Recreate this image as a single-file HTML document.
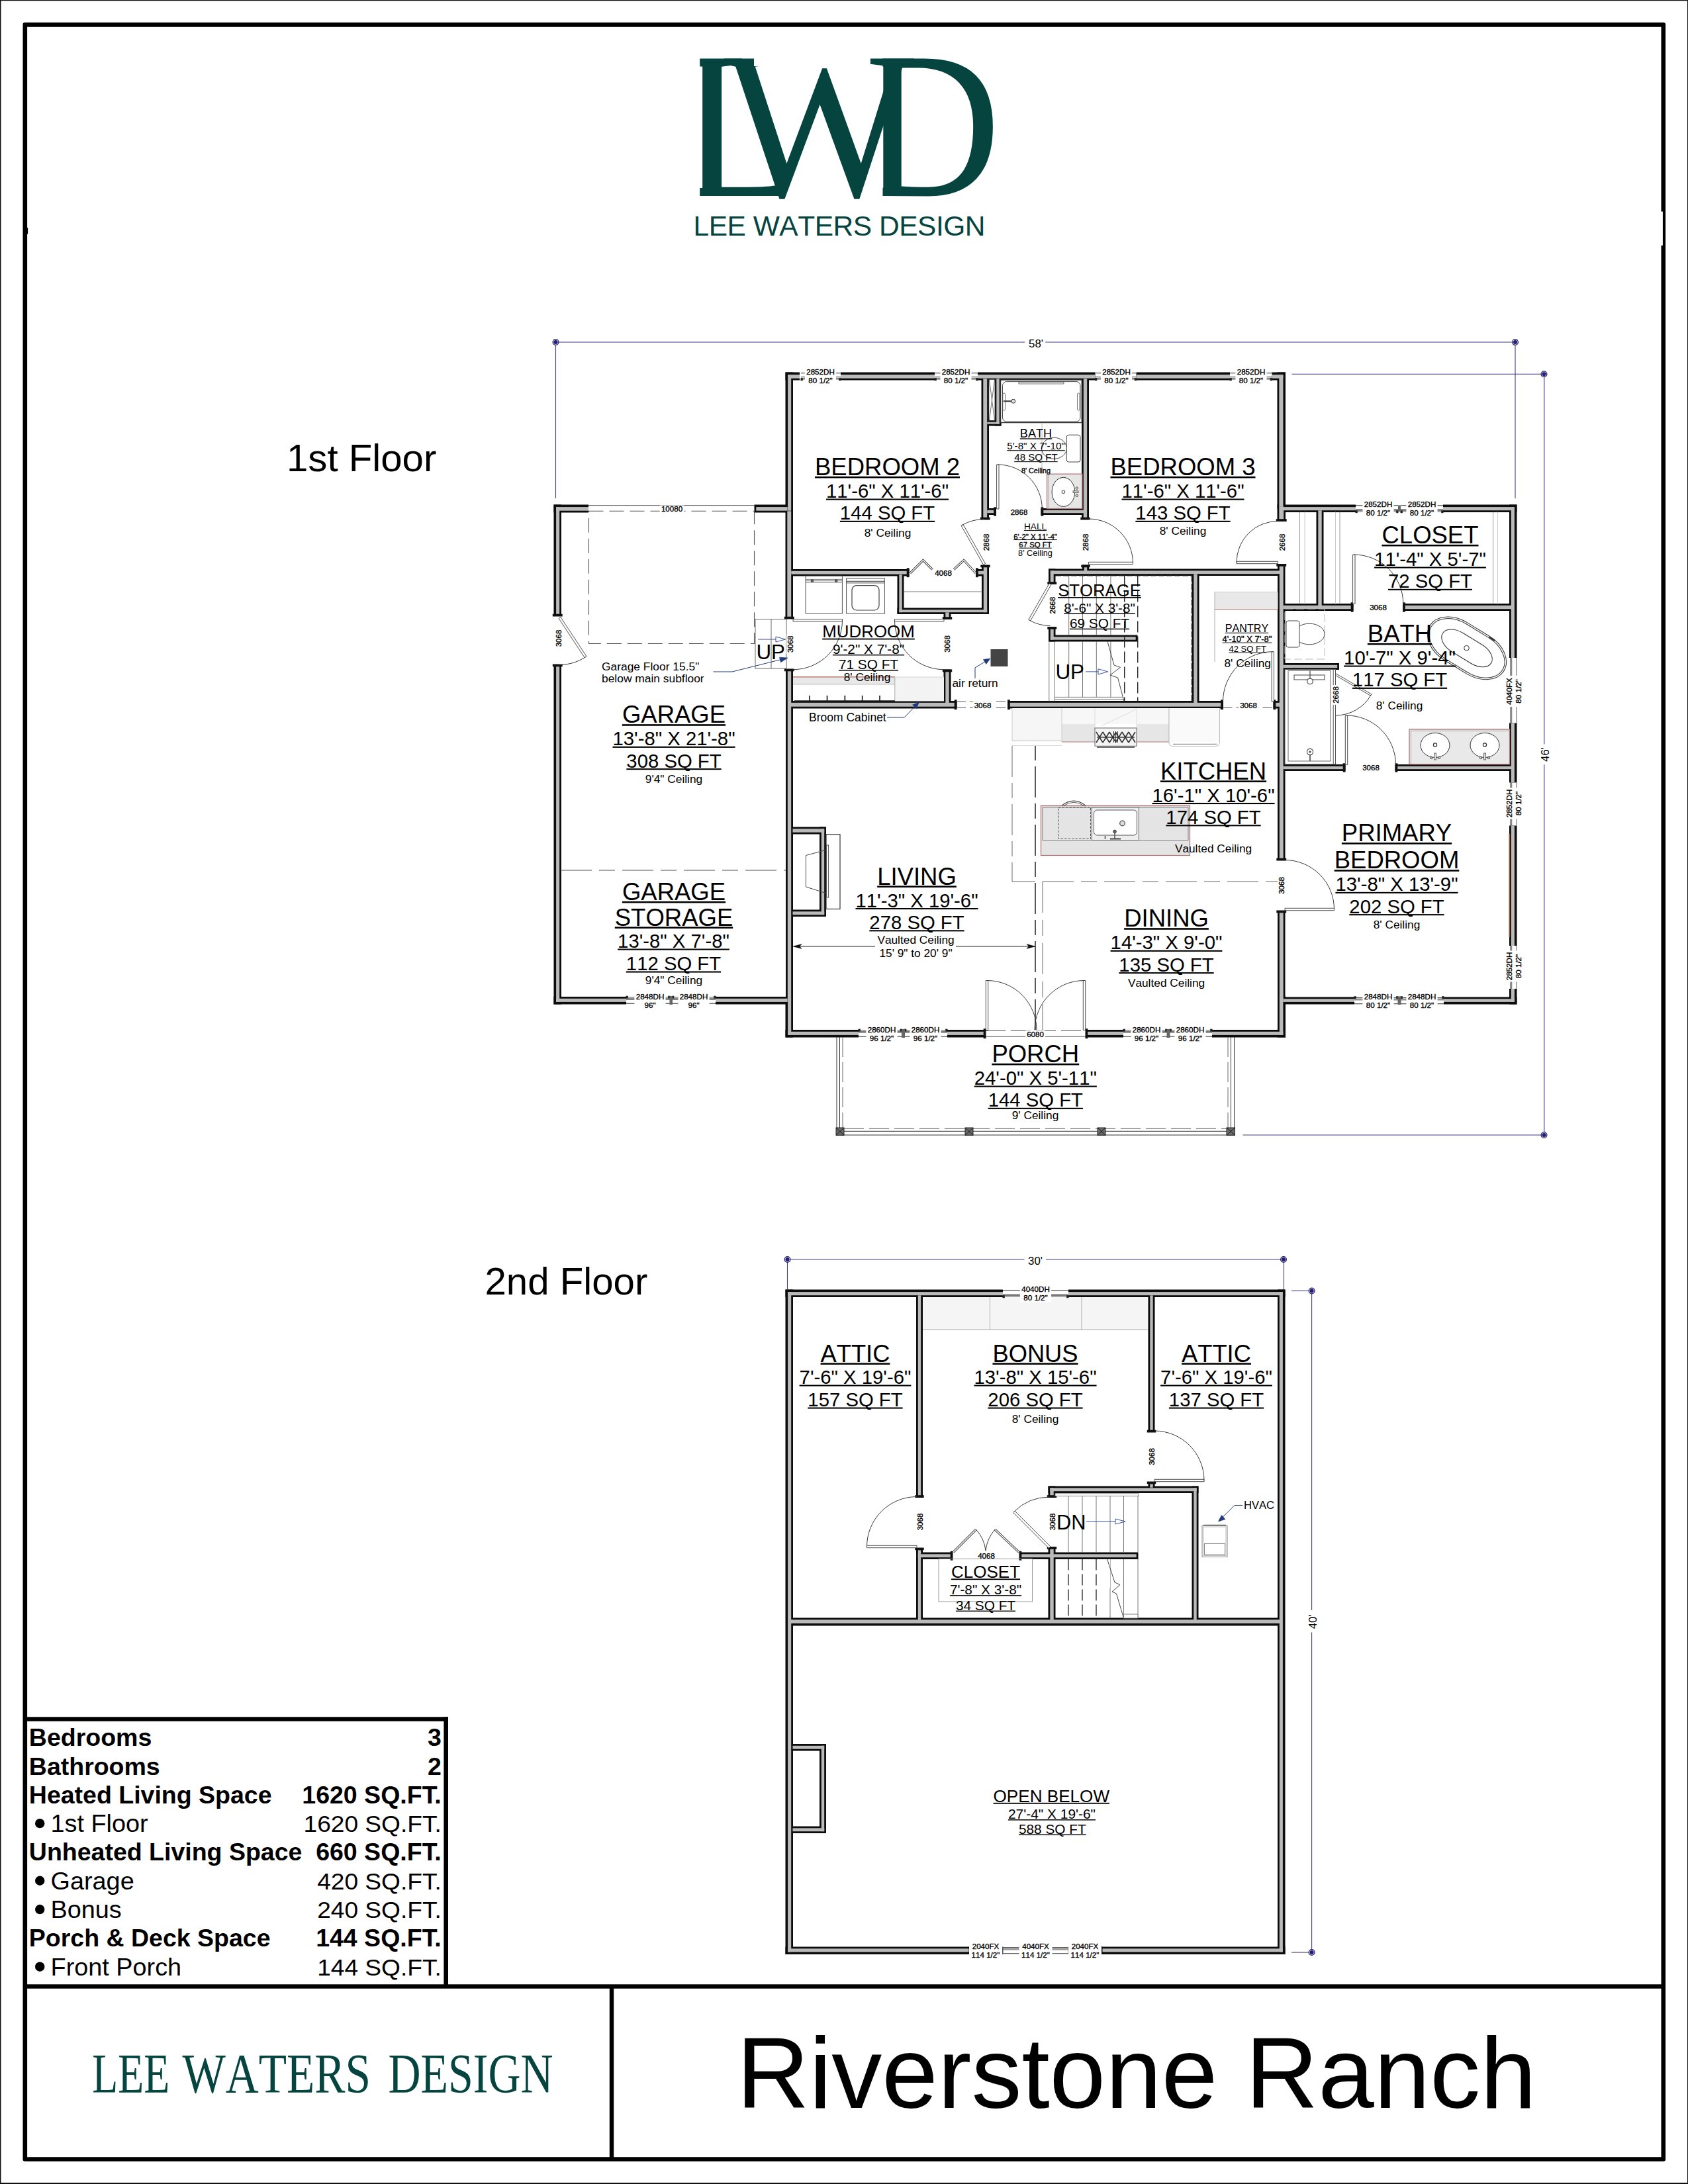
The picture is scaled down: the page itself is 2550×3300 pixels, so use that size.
<!DOCTYPE html>
<html><head><meta charset="utf-8"><title>Riverstone Ranch</title>
<style>
html,body{margin:0;padding:0;background:#fff}
body{width:2550px;height:3300px;overflow:hidden}
svg{display:block}
text{font-family:"Liberation Sans",sans-serif;font-kerning:none}
.sf,.sf text{font-family:"Liberation Serif",serif}
.tb{font-kerning:normal}
.wl{stroke:#000;stroke-width:.35px}
</style></head><body>
<svg width="2550" height="3300" viewBox="0 0 2550 3300">
<rect x="0" y="0" width="2550" height="3300" fill="#fff"/>
<rect x="0" y="0" width="2550" height="1.2" fill="#111"/>
<rect x="0" y="0" width="1.5" height="3300" fill="#111"/>
<rect x="2549" y="0" width="1" height="3300" fill="#111"/>
<rect x="0" y="3298" width="2550" height="2" fill="#111"/>
<rect x="37.8" y="37.35" width="2475" height="3225.2" fill="none" stroke="#000" stroke-width="6.6" stroke-linejoin="round"/>
<rect x="40.9" y="344" width="1.2" height="9.6" fill="#000"/>
<rect x="2508.5" y="319.6" width="3.4" height="51.3" fill="#fff"/>
<rect x="35" y="2998.3" width="2481" height="6.4" fill="#000"/>
<rect x="920.8" y="3001" width="6.4" height="261" fill="#000"/>
<rect x="38" y="2594.3" width="639" height="6.5" fill="#000"/>
<rect x="670.4" y="2594.3" width="6.6" height="406.7" fill="#000"/>
<rect x="836.5" y="762.5" width="11.5" height="168.5" fill="#0c0c0c"/>
<rect x="836.5" y="1004" width="11.5" height="513.5" fill="#0c0c0c"/>
<rect x="836.5" y="762.5" width="52.5" height="12" fill="#0c0c0c"/>
<rect x="1139.5" y="762.5" width="53" height="12" fill="#0c0c0c"/>
<rect x="836.5" y="1506" width="109.5" height="11.5" fill="#0c0c0c"/>
<rect x="1081" y="1506" width="111.5" height="11.5" fill="#0c0c0c"/>
<rect x="1186.5" y="562.5" width="11.5" height="212" fill="#0c0c0c"/>
<rect x="1186.5" y="769.5" width="11.5" height="165.5" fill="#0c0c0c"/>
<rect x="1187" y="1011" width="11" height="501.5" fill="#0c0c0c"/>
<rect x="1186.5" y="1506" width="11.5" height="61.5" fill="#0c0c0c"/>
<rect x="1186.5" y="562.5" width="21.5" height="12" fill="#0c0c0c"/>
<rect x="1270" y="562.5" width="142" height="12" fill="#0c0c0c"/>
<rect x="1477" y="562.5" width="177.5" height="12" fill="#0c0c0c"/>
<rect x="1716.5" y="562.5" width="141.5" height="12" fill="#0c0c0c"/>
<rect x="1921.5" y="562.5" width="20.5" height="12" fill="#0c0c0c"/>
<rect x="1929.5" y="562.5" width="12.5" height="206" fill="#0c0c0c"/>
<rect x="1929.5" y="762.5" width="12.5" height="25" fill="#0c0c0c"/>
<rect x="1930" y="852.5" width="11.5" height="447.5" fill="#0c0c0c"/>
<rect x="1930" y="1376" width="11.5" height="136.5" fill="#0c0c0c"/>
<rect x="1930" y="1505.5" width="12" height="62" fill="#0c0c0c"/>
<rect x="1935.5" y="762.5" width="112.5" height="11.5" fill="#0c0c0c"/>
<rect x="2180" y="762.5" width="111.5" height="11.5" fill="#0c0c0c"/>
<rect x="2280" y="762.5" width="11.5" height="231.5" fill="#0c0c0c"/>
<rect x="2280" y="1092.5" width="11.5" height="90" fill="#0c0c0c"/>
<rect x="2280" y="1247.5" width="11.5" height="181.5" fill="#0c0c0c"/>
<rect x="2280" y="1494" width="11.5" height="23.5" fill="#0c0c0c"/>
<rect x="1935.5" y="1506.5" width="110.5" height="11" fill="#0c0c0c"/>
<rect x="2181" y="1506.5" width="110.5" height="11" fill="#0c0c0c"/>
<rect x="1186.5" y="1556" width="110.5" height="11.5" fill="#0c0c0c"/>
<rect x="1431" y="1556" width="58" height="11.5" fill="#0c0c0c"/>
<rect x="1640" y="1556" width="57" height="11.5" fill="#0c0c0c"/>
<rect x="1831" y="1556" width="111" height="11.5" fill="#0c0c0c"/>
<rect x="1482.5" y="569.5" width="11.5" height="215.5" fill="#0c0c0c"/>
<rect x="1488.5" y="768" width="16.5" height="10" fill="#0c0c0c"/>
<rect x="1502.5" y="569.5" width="10" height="74" fill="#0c0c0c"/>
<rect x="1488.5" y="635" width="24" height="8.5" fill="#0c0c0c"/>
<rect x="1634" y="569.5" width="11" height="215.5" fill="#0c0c0c"/>
<rect x="1572.5" y="768" width="68" height="10" fill="#0c0c0c"/>
<rect x="1635" y="853.5" width="10" height="12" fill="#0c0c0c"/>
<rect x="1192.5" y="860" width="181" height="10.5" fill="#0c0c0c"/>
<rect x="1355.5" y="865.5" width="10" height="62.5" fill="#0c0c0c"/>
<rect x="1355.5" y="918.5" width="138.5" height="9.5" fill="#0c0c0c"/>
<rect x="1483" y="854" width="11" height="74" fill="#0c0c0c"/>
<rect x="1474" y="860" width="15.5" height="10.5" fill="#0c0c0c"/>
<rect x="1425.5" y="922.5" width="11" height="13.5" fill="#0c0c0c"/>
<rect x="1425.5" y="1011.5" width="11" height="54" fill="#0c0c0c"/>
<rect x="1191.5" y="1059" width="254" height="11.5" fill="#0c0c0c"/>
<rect x="1522" y="1059" width="326" height="11.5" fill="#0c0c0c"/>
<rect x="1923.5" y="1059" width="13" height="11.5" fill="#0c0c0c"/>
<rect x="1584" y="859.5" width="10.5" height="23.5" fill="#0c0c0c"/>
<rect x="1584" y="947" width="10.5" height="22.5" fill="#0c0c0c"/>
<rect x="1584" y="859.5" width="352.5" height="10.5" fill="#0c0c0c"/>
<rect x="1584" y="959.5" width="134.5" height="10" fill="#0c0c0c"/>
<rect x="1800.5" y="864.5" width="11" height="201" fill="#0c0c0c"/>
<rect x="1988.5" y="768.5" width="11" height="150" fill="#0c0c0c"/>
<rect x="1935.5" y="912" width="109" height="11" fill="#0c0c0c"/>
<rect x="2119" y="912" width="167.5" height="11" fill="#0c0c0c"/>
<rect x="1935.5" y="1002" width="87.5" height="10" fill="#0c0c0c"/>
<rect x="1935.5" y="1155" width="97" height="10" fill="#0c0c0c"/>
<rect x="2107.5" y="1155" width="179" height="10" fill="#0c0c0c"/>
<rect x="1194.7" y="1249.5" width="53.3" height="11" fill="#0c0c0c"/>
<rect x="1238" y="1249.5" width="10" height="135.5" fill="#0c0c0c"/>
<rect x="1194.7" y="1374.5" width="53.3" height="10.5" fill="#0c0c0c"/>
<rect x="840.1" y="766.1" width="5.1" height="164.9" fill="#bababa"/>
<rect x="840.1" y="1004" width="5.1" height="509.9" fill="#bababa"/>
<rect x="840.1" y="766.1" width="48.9" height="5.6" fill="#bababa"/>
<rect x="1142.3" y="766.1" width="47.4" height="5.6" fill="#bababa"/>
<rect x="840.1" y="1508.8" width="105.9" height="5.1" fill="#bababa"/>
<rect x="1081" y="1508.8" width="108.7" height="5.1" fill="#bababa"/>
<rect x="1190.1" y="566.1" width="5.1" height="205.6" fill="#bababa"/>
<rect x="1189.3" y="772.3" width="5.9" height="162.7" fill="#bababa"/>
<rect x="1189.8" y="1011" width="5.4" height="498.7" fill="#bababa"/>
<rect x="1190.1" y="1508.8" width="5.1" height="55.1" fill="#bababa"/>
<rect x="1190.1" y="566.1" width="17.9" height="5.6" fill="#bababa"/>
<rect x="1270" y="566.1" width="142" height="5.6" fill="#bababa"/>
<rect x="1477" y="566.1" width="177.5" height="5.6" fill="#bababa"/>
<rect x="1716.5" y="566.1" width="141.5" height="5.6" fill="#bababa"/>
<rect x="1921.5" y="566.1" width="16.9" height="5.6" fill="#bababa"/>
<rect x="1932.3" y="566.1" width="6.1" height="199.6" fill="#bababa"/>
<rect x="1932.3" y="765.3" width="6.9" height="22.2" fill="#bababa"/>
<rect x="1932.8" y="852.5" width="5.9" height="447.5" fill="#bababa"/>
<rect x="1932.8" y="1376" width="5.9" height="133.7" fill="#bababa"/>
<rect x="1932.8" y="1508.3" width="5.6" height="55.6" fill="#bababa"/>
<rect x="1938.3" y="766.1" width="109.7" height="5.1" fill="#bababa"/>
<rect x="2180" y="766.1" width="107.9" height="5.1" fill="#bababa"/>
<rect x="2282.8" y="766.1" width="5.1" height="227.9" fill="#bababa"/>
<rect x="2282.8" y="1092.5" width="5.1" height="90" fill="#bababa"/>
<rect x="2282.8" y="1247.5" width="5.1" height="181.5" fill="#bababa"/>
<rect x="2282.8" y="1494" width="5.1" height="19.9" fill="#bababa"/>
<rect x="1938.3" y="1509.3" width="107.7" height="4.6" fill="#bababa"/>
<rect x="2181" y="1509.3" width="106.9" height="4.6" fill="#bababa"/>
<rect x="1190.1" y="1558.8" width="106.9" height="5.1" fill="#bababa"/>
<rect x="1431" y="1558.8" width="58" height="5.1" fill="#bababa"/>
<rect x="1640" y="1558.8" width="57" height="5.1" fill="#bababa"/>
<rect x="1831" y="1558.8" width="107.4" height="5.1" fill="#bababa"/>
<rect x="1485.3" y="572.3" width="5.9" height="212.7" fill="#bababa"/>
<rect x="1491.3" y="770.8" width="10.9" height="4.4" fill="#bababa"/>
<rect x="1505.3" y="572.3" width="4.4" height="68.4" fill="#bababa"/>
<rect x="1491.3" y="637.8" width="18.4" height="2.9" fill="#bababa"/>
<rect x="1636.8" y="572.3" width="5.4" height="212.7" fill="#bababa"/>
<rect x="1575.3" y="770.8" width="62.4" height="4.4" fill="#bababa"/>
<rect x="1637.8" y="856.3" width="4.4" height="6.4" fill="#bababa"/>
<rect x="1195.3" y="862.8" width="175.4" height="4.9" fill="#bababa"/>
<rect x="1358.3" y="868.3" width="4.4" height="56.9" fill="#bababa"/>
<rect x="1358.3" y="921.3" width="132.9" height="3.9" fill="#bababa"/>
<rect x="1485.8" y="854" width="5.4" height="71.2" fill="#bababa"/>
<rect x="1476.8" y="862.8" width="9.9" height="4.9" fill="#bababa"/>
<rect x="1428.3" y="925.3" width="5.4" height="7.9" fill="#bababa"/>
<rect x="1428.3" y="1014.3" width="5.4" height="48.4" fill="#bababa"/>
<rect x="1194.3" y="1061.8" width="248.4" height="5.9" fill="#bababa"/>
<rect x="1524.8" y="1061.8" width="320.4" height="5.9" fill="#bababa"/>
<rect x="1926.3" y="1061.8" width="7.4" height="5.9" fill="#bababa"/>
<rect x="1586.8" y="862.3" width="4.9" height="17.9" fill="#bababa"/>
<rect x="1586.8" y="949.8" width="4.9" height="16.9" fill="#bababa"/>
<rect x="1586.8" y="862.3" width="346.9" height="4.9" fill="#bababa"/>
<rect x="1586.8" y="962.3" width="128.9" height="4.4" fill="#bababa"/>
<rect x="1803.3" y="867.3" width="5.4" height="195.4" fill="#bababa"/>
<rect x="1991.3" y="771.3" width="5.4" height="144.4" fill="#bababa"/>
<rect x="1938.3" y="914.8" width="103.4" height="5.4" fill="#bababa"/>
<rect x="2121.8" y="914.8" width="161.9" height="5.4" fill="#bababa"/>
<rect x="1938.3" y="1004.8" width="81.9" height="4.4" fill="#bababa"/>
<rect x="1938.3" y="1157.8" width="91.4" height="4.4" fill="#bababa"/>
<rect x="2110.3" y="1157.8" width="173.4" height="4.4" fill="#bababa"/>
<rect x="1197.5" y="1252.3" width="47.7" height="5.4" fill="#bababa"/>
<rect x="1240.8" y="1252.3" width="4.4" height="129.9" fill="#bababa"/>
<rect x="1197.5" y="1377.3" width="47.7" height="4.9" fill="#bababa"/>
<line x1="839.5" y1="517" x2="1548.3" y2="517" stroke="#403b7c" stroke-width="1.2"/>
<line x1="1579.2" y1="517" x2="2289" y2="517" stroke="#403b7c" stroke-width="1.2"/>
<line x1="839.5" y1="517" x2="839.5" y2="753" stroke="#403b7c" stroke-width="1.1"/>
<line x1="2289" y1="517" x2="2289" y2="753" stroke="#403b7c" stroke-width="1.1"/>
<circle cx="839.5" cy="517" r="4.4" fill="#d2d2ff" stroke="#2b285c" stroke-width="1.3"/>
<circle cx="839.5" cy="517" r="3" fill="#211d78" stroke="none" stroke-width="0"/>
<circle cx="2289" cy="517" r="4.4" fill="#d2d2ff" stroke="#2b285c" stroke-width="1.3"/>
<circle cx="2289" cy="517" r="3" fill="#211d78" stroke="none" stroke-width="0"/>
<text x="1565" y="525.1" font-size="16.8" text-anchor="middle">58'</text>
<line x1="1951.5" y1="565.3" x2="2332.5" y2="565.3" stroke="#403b7c" stroke-width="1.1"/>
<circle cx="2332.5" cy="565.3" r="4.4" fill="#d2d2ff" stroke="#2b285c" stroke-width="1.3"/>
<circle cx="2332.5" cy="565.3" r="3" fill="#211d78" stroke="none" stroke-width="0"/>
<line x1="2332.8" y1="565.3" x2="2332.8" y2="1124.4" stroke="#403b7c" stroke-width="1.1"/>
<line x1="2332.8" y1="1155.2" x2="2332.8" y2="1715" stroke="#403b7c" stroke-width="1.1"/>
<line x1="1877.5" y1="1715" x2="2332.5" y2="1715" stroke="#403b7c" stroke-width="1.1"/>
<circle cx="2332.5" cy="1715" r="4.4" fill="#d2d2ff" stroke="#2b285c" stroke-width="1.3"/>
<circle cx="2332.5" cy="1715" r="3" fill="#211d78" stroke="none" stroke-width="0"/>
<text x="2339.8" y="1140" font-size="16.8" text-anchor="middle" transform="rotate(-90 2339.8 1140)">46'</text>
<line x1="889" y1="763.6" x2="1140" y2="763.6" stroke="#555" stroke-width="1"/>
<rect x="889.5" y="772.2" width="250" height="200.3" fill="none" stroke="#555" stroke-width="1.1" stroke-dasharray="22 9"/>
<line x1="847" y1="1315" x2="1187" y2="1315" stroke="#555" stroke-width="1.1" stroke-dasharray="47 11 24 11"/>
<rect x="1141" y="935.5" width="47" height="74.5" fill="#fff" stroke="#666" stroke-width="1"/>
<line x1="1165" y1="935.5" x2="1165" y2="1010" stroke="#666" stroke-width="1"/>
<line x1="1210" y1="563.8" x2="1270" y2="563.8" stroke="#333" stroke-width="1.1"/>
<line x1="1210" y1="569.6" x2="1270" y2="569.6" stroke="#444" stroke-width="0.9"/>
<line x1="1210" y1="571.3" x2="1270" y2="571.3" stroke="#444" stroke-width="0.9"/>
<line x1="1210" y1="573" x2="1270" y2="573" stroke="#444" stroke-width="0.9"/>
<rect x="1209.5" y="571.2" width="3.3" height="4" fill="#222"/>
<rect x="1267.2" y="571.2" width="3.3" height="4" fill="#222"/>
<line x1="1412" y1="563.8" x2="1477" y2="563.8" stroke="#333" stroke-width="1.1"/>
<line x1="1412" y1="569.6" x2="1477" y2="569.6" stroke="#444" stroke-width="0.9"/>
<line x1="1412" y1="571.3" x2="1477" y2="571.3" stroke="#444" stroke-width="0.9"/>
<line x1="1412" y1="573" x2="1477" y2="573" stroke="#444" stroke-width="0.9"/>
<rect x="1411.5" y="571.2" width="3.3" height="4" fill="#222"/>
<rect x="1474.2" y="571.2" width="3.3" height="4" fill="#222"/>
<line x1="1654.5" y1="563.8" x2="1716.5" y2="563.8" stroke="#333" stroke-width="1.1"/>
<line x1="1654.5" y1="569.6" x2="1716.5" y2="569.6" stroke="#444" stroke-width="0.9"/>
<line x1="1654.5" y1="571.3" x2="1716.5" y2="571.3" stroke="#444" stroke-width="0.9"/>
<line x1="1654.5" y1="573" x2="1716.5" y2="573" stroke="#444" stroke-width="0.9"/>
<rect x="1654" y="571.2" width="3.3" height="4" fill="#222"/>
<rect x="1713.7" y="571.2" width="3.3" height="4" fill="#222"/>
<line x1="1858" y1="563.8" x2="1921.5" y2="563.8" stroke="#333" stroke-width="1.1"/>
<line x1="1858" y1="569.6" x2="1921.5" y2="569.6" stroke="#444" stroke-width="0.9"/>
<line x1="1858" y1="571.3" x2="1921.5" y2="571.3" stroke="#444" stroke-width="0.9"/>
<line x1="1858" y1="573" x2="1921.5" y2="573" stroke="#444" stroke-width="0.9"/>
<rect x="1857.5" y="571.2" width="3.3" height="4" fill="#222"/>
<rect x="1918.7" y="571.2" width="3.3" height="4" fill="#222"/>
<line x1="2048" y1="763.8" x2="2112" y2="763.8" stroke="#333" stroke-width="1.1"/>
<line x1="2048" y1="769.6" x2="2112" y2="769.6" stroke="#444" stroke-width="0.9"/>
<line x1="2048" y1="771.3" x2="2112" y2="771.3" stroke="#444" stroke-width="0.9"/>
<line x1="2048" y1="773" x2="2112" y2="773" stroke="#444" stroke-width="0.9"/>
<rect x="2047.5" y="771.2" width="3.3" height="4" fill="#222"/>
<rect x="2109.2" y="771.2" width="3.3" height="4" fill="#222"/>
<line x1="2116" y1="763.8" x2="2180" y2="763.8" stroke="#333" stroke-width="1.1"/>
<line x1="2116" y1="769.6" x2="2180" y2="769.6" stroke="#444" stroke-width="0.9"/>
<line x1="2116" y1="771.3" x2="2180" y2="771.3" stroke="#444" stroke-width="0.9"/>
<line x1="2116" y1="773" x2="2180" y2="773" stroke="#444" stroke-width="0.9"/>
<rect x="2115.5" y="771.2" width="3.3" height="4" fill="#222"/>
<rect x="2177.2" y="771.2" width="3.3" height="4" fill="#222"/>
<rect x="2112" y="763.5" width="4" height="9.5" fill="#666"/>
<line x1="946" y1="1516.2" x2="1012" y2="1516.2" stroke="#333" stroke-width="1.1"/>
<line x1="946" y1="1507" x2="1012" y2="1507" stroke="#444" stroke-width="0.9"/>
<line x1="946" y1="1508.7" x2="1012" y2="1508.7" stroke="#444" stroke-width="0.9"/>
<line x1="946" y1="1510.4" x2="1012" y2="1510.4" stroke="#444" stroke-width="0.9"/>
<rect x="945.5" y="1504.7" width="3.3" height="4" fill="#222"/>
<rect x="1009.2" y="1504.7" width="3.3" height="4" fill="#222"/>
<line x1="1015.5" y1="1516.2" x2="1081" y2="1516.2" stroke="#333" stroke-width="1.1"/>
<line x1="1015.5" y1="1507" x2="1081" y2="1507" stroke="#444" stroke-width="0.9"/>
<line x1="1015.5" y1="1508.7" x2="1081" y2="1508.7" stroke="#444" stroke-width="0.9"/>
<line x1="1015.5" y1="1510.4" x2="1081" y2="1510.4" stroke="#444" stroke-width="0.9"/>
<rect x="1015" y="1504.7" width="3.3" height="4" fill="#222"/>
<rect x="1078.2" y="1504.7" width="3.3" height="4" fill="#222"/>
<rect x="1011.5" y="1505" width="4.5" height="13" fill="#666"/>
<line x1="2046" y1="1516.7" x2="2112" y2="1516.7" stroke="#333" stroke-width="1.1"/>
<line x1="2046" y1="1507.5" x2="2112" y2="1507.5" stroke="#444" stroke-width="0.9"/>
<line x1="2046" y1="1509.2" x2="2112" y2="1509.2" stroke="#444" stroke-width="0.9"/>
<line x1="2046" y1="1510.9" x2="2112" y2="1510.9" stroke="#444" stroke-width="0.9"/>
<rect x="2045.5" y="1505.2" width="3.3" height="4" fill="#222"/>
<rect x="2109.2" y="1505.2" width="3.3" height="4" fill="#222"/>
<line x1="2116" y1="1516.7" x2="2181" y2="1516.7" stroke="#333" stroke-width="1.1"/>
<line x1="2116" y1="1507.5" x2="2181" y2="1507.5" stroke="#444" stroke-width="0.9"/>
<line x1="2116" y1="1509.2" x2="2181" y2="1509.2" stroke="#444" stroke-width="0.9"/>
<line x1="2116" y1="1510.9" x2="2181" y2="1510.9" stroke="#444" stroke-width="0.9"/>
<rect x="2115.5" y="1505.2" width="3.3" height="4" fill="#222"/>
<rect x="2178.2" y="1505.2" width="3.3" height="4" fill="#222"/>
<rect x="2111.5" y="1505.5" width="5" height="12.5" fill="#666"/>
<line x1="1297" y1="1566.2" x2="1362.5" y2="1566.2" stroke="#333" stroke-width="1.1"/>
<line x1="1297" y1="1557" x2="1362.5" y2="1557" stroke="#444" stroke-width="0.9"/>
<line x1="1297" y1="1558.7" x2="1362.5" y2="1558.7" stroke="#444" stroke-width="0.9"/>
<line x1="1297" y1="1560.4" x2="1362.5" y2="1560.4" stroke="#444" stroke-width="0.9"/>
<rect x="1296.5" y="1554.7" width="3.3" height="4" fill="#222"/>
<rect x="1359.7" y="1554.7" width="3.3" height="4" fill="#222"/>
<line x1="1366.5" y1="1566.2" x2="1431" y2="1566.2" stroke="#333" stroke-width="1.1"/>
<line x1="1366.5" y1="1557" x2="1431" y2="1557" stroke="#444" stroke-width="0.9"/>
<line x1="1366.5" y1="1558.7" x2="1431" y2="1558.7" stroke="#444" stroke-width="0.9"/>
<line x1="1366.5" y1="1560.4" x2="1431" y2="1560.4" stroke="#444" stroke-width="0.9"/>
<rect x="1366" y="1554.7" width="3.3" height="4" fill="#222"/>
<rect x="1428.2" y="1554.7" width="3.3" height="4" fill="#222"/>
<rect x="1362" y="1555" width="5" height="13" fill="#666"/>
<line x1="1697" y1="1566.2" x2="1763" y2="1566.2" stroke="#333" stroke-width="1.1"/>
<line x1="1697" y1="1557" x2="1763" y2="1557" stroke="#444" stroke-width="0.9"/>
<line x1="1697" y1="1558.7" x2="1763" y2="1558.7" stroke="#444" stroke-width="0.9"/>
<line x1="1697" y1="1560.4" x2="1763" y2="1560.4" stroke="#444" stroke-width="0.9"/>
<rect x="1696.5" y="1554.7" width="3.3" height="4" fill="#222"/>
<rect x="1760.2" y="1554.7" width="3.3" height="4" fill="#222"/>
<line x1="1767" y1="1566.2" x2="1831" y2="1566.2" stroke="#333" stroke-width="1.1"/>
<line x1="1767" y1="1557" x2="1831" y2="1557" stroke="#444" stroke-width="0.9"/>
<line x1="1767" y1="1558.7" x2="1831" y2="1558.7" stroke="#444" stroke-width="0.9"/>
<line x1="1767" y1="1560.4" x2="1831" y2="1560.4" stroke="#444" stroke-width="0.9"/>
<rect x="1766.5" y="1554.7" width="3.3" height="4" fill="#222"/>
<rect x="1828.2" y="1554.7" width="3.3" height="4" fill="#222"/>
<rect x="1762.5" y="1555" width="5" height="13" fill="#666"/>
<line x1="2281.5" y1="994" x2="2281.5" y2="1092.5" stroke="#444" stroke-width="0.9"/>
<line x1="2283.7" y1="994" x2="2283.7" y2="1092.5" stroke="#444" stroke-width="0.9"/>
<line x1="2290.8" y1="994" x2="2290.8" y2="1092.5" stroke="#666" stroke-width="1"/>
<line x1="2281.5" y1="1182.5" x2="2281.5" y2="1247.5" stroke="#444" stroke-width="0.9"/>
<line x1="2283.7" y1="1182.5" x2="2283.7" y2="1247.5" stroke="#444" stroke-width="0.9"/>
<line x1="2290.8" y1="1182.5" x2="2290.8" y2="1247.5" stroke="#666" stroke-width="1"/>
<line x1="2281.5" y1="1429" x2="2281.5" y2="1494" stroke="#444" stroke-width="0.9"/>
<line x1="2283.7" y1="1429" x2="2283.7" y2="1494" stroke="#444" stroke-width="0.9"/>
<line x1="2290.8" y1="1429" x2="2290.8" y2="1494" stroke="#666" stroke-width="1"/>
<line x1="2280.3" y1="1260" x2="2280.3" y2="1416" stroke="#a0522d" stroke-width="1.6"/>
<line x1="1489" y1="1557.3" x2="1640" y2="1557.3" stroke="#555" stroke-width="1" stroke-dasharray="30 8"/>
<line x1="1489" y1="1566.2" x2="1640" y2="1566.2" stroke="#555" stroke-width="1"/>
<rect x="1501.2" y="766.3" width="3.8" height="13.4" fill="#111"/>
<rect x="1572.5" y="766.3" width="3.8" height="13.4" fill="#111"/>
<rect x="1369.7" y="858.3" width="3.8" height="13.9" fill="#111"/>
<rect x="1474" y="858.3" width="3.8" height="13.9" fill="#111"/>
<rect x="1441.7" y="1057.3" width="3.8" height="14.9" fill="#111"/>
<rect x="1522" y="1057.3" width="3.8" height="14.9" fill="#111"/>
<rect x="1844.2" y="1057.3" width="3.8" height="14.9" fill="#111"/>
<rect x="1923.5" y="1057.3" width="3.8" height="14.9" fill="#111"/>
<rect x="2040.7" y="910.3" width="3.8" height="14.4" fill="#111"/>
<rect x="2119" y="910.3" width="3.8" height="14.4" fill="#111"/>
<rect x="2028.7" y="1153.3" width="3.8" height="13.4" fill="#111"/>
<rect x="2107.5" y="1153.3" width="3.8" height="13.4" fill="#111"/>
<rect x="1485.7" y="1554.3" width="3.8" height="14.9" fill="#111"/>
<rect x="1639.5" y="1554.3" width="3.8" height="14.9" fill="#111"/>
<rect x="834.8" y="927.7" width="14.9" height="3.8" fill="#111"/>
<rect x="834.8" y="1003.5" width="14.9" height="3.8" fill="#111"/>
<rect x="1184.8" y="931.7" width="14.9" height="3.8" fill="#111"/>
<rect x="1184.8" y="1010.5" width="14.9" height="3.8" fill="#111"/>
<rect x="1423.8" y="932.2" width="14.4" height="3.8" fill="#111"/>
<rect x="1423.8" y="1011.5" width="14.4" height="3.8" fill="#111"/>
<rect x="1480.8" y="781.7" width="14.9" height="3.8" fill="#111"/>
<rect x="1481.3" y="853.5" width="14.4" height="3.8" fill="#111"/>
<rect x="1632.3" y="781.7" width="14.4" height="3.8" fill="#111"/>
<rect x="1633.3" y="853.5" width="13.4" height="3.8" fill="#111"/>
<rect x="1582.3" y="879.2" width="13.9" height="3.8" fill="#111"/>
<rect x="1582.3" y="947" width="13.9" height="3.8" fill="#111"/>
<rect x="1927.8" y="784.2" width="15.9" height="3.8" fill="#111"/>
<rect x="1928.3" y="852" width="14.9" height="3.8" fill="#111"/>
<rect x="1928.3" y="1296.7" width="14.9" height="3.8" fill="#111"/>
<rect x="1928.3" y="1375.5" width="14.9" height="3.8" fill="#111"/>
<polygon points="844.08,934.44 883.16,993.71 886,991.84 846.92,932.56" fill="#fff" stroke="#3a3a3a" stroke-width="0.9"/>
<path d="M884.58 992.77A71 71 0 0 1 845.5 1004.5" fill="none" stroke="#3a3a3a" stroke-width="1"/>
<polygon points="1198,938.9 1272.5,938.9 1272.5,935.5 1198,935.5" fill="#fff" stroke="#3a3a3a" stroke-width="0.9"/>
<path d="M1272.5 937.2A74.5 74.5 0 0 1 1198 1011.7" fill="none" stroke="#3a3a3a" stroke-width="1"/>
<polygon points="1426,935.5 1351.5,935.5 1351.5,938.9 1426,938.9" fill="#fff" stroke="#3a3a3a" stroke-width="0.9"/>
<path d="M1351.5 937.2A74.5 74.5 0 0 0 1426 1011.7" fill="none" stroke="#3a3a3a" stroke-width="1"/>
<polygon points="1488.48,851.66 1454.99,792.48 1452.04,794.15 1485.52,853.34" fill="#fff" stroke="#3a3a3a" stroke-width="0.9"/>
<path d="M1453.52 793.32A68 68 0 0 1 1487 784.5" fill="none" stroke="#3a3a3a" stroke-width="1"/>
<polygon points="1509,769 1509,702 1505.6,702 1505.6,769" fill="#fff" stroke="#3a3a3a" stroke-width="0.9"/>
<path d="M1507.3 702A67 67 0 0 1 1574.3 769" fill="none" stroke="#3a3a3a" stroke-width="1"/>
<polygon points="1644.5,852.7 1711.5,852.7 1711.5,849.3 1644.5,849.3" fill="#fff" stroke="#3a3a3a" stroke-width="0.9"/>
<path d="M1711.5 851A67 67 0 0 0 1644.5 784" fill="none" stroke="#3a3a3a" stroke-width="1"/>
<polygon points="1585.02,881.66 1553.72,936.32 1556.67,938.01 1587.98,883.34" fill="#fff" stroke="#3a3a3a" stroke-width="0.9"/>
<path d="M1555.19 937.17A63 63 0 0 0 1586.5 945.5" fill="none" stroke="#3a3a3a" stroke-width="1"/>
<polygon points="1930.5,848.3 1868,848.3 1868,851.7 1930.5,851.7" fill="#fff" stroke="#3a3a3a" stroke-width="0.9"/>
<path d="M1868 850A62.5 62.5 0 0 1 1930.5 787.5" fill="none" stroke="#3a3a3a" stroke-width="1"/>
<polygon points="2047,912.5 2047,838 2043.6,838 2043.6,912.5" fill="#fff" stroke="#3a3a3a" stroke-width="0.9"/>
<path d="M2045.3 838A74.5 74.5 0 0 1 2119.8 912.5" fill="none" stroke="#3a3a3a" stroke-width="1"/>
<polygon points="1924.5,1060 1924.5,984.7 1921.1,984.7 1921.1,1060" fill="#fff" stroke="#3a3a3a" stroke-width="0.9"/>
<path d="M1922.8 984.7A75.3 75.3 0 0 0 1847.5 1060" fill="none" stroke="#3a3a3a" stroke-width="1"/>
<polygon points="2016.85,1020.13 2070.54,1051.13 2071.84,1048.87 2018.15,1017.87" fill="#fff" stroke="#3a3a3a" stroke-width="0.9"/>
<path d="M2071.19 1050A62 62 0 0 1 2017.5 1081" fill="none" stroke="#3a3a3a" stroke-width="1"/>
<polygon points="2035.7,1155.5 2035.7,1081 2032.3,1081 2032.3,1155.5" fill="#fff" stroke="#3a3a3a" stroke-width="0.9"/>
<path d="M2034 1081A74.5 74.5 0 0 1 2108.5 1155.5" fill="none" stroke="#3a3a3a" stroke-width="1"/>
<polygon points="1941,1375.7 2015.5,1375.7 2015.5,1372.3 1941,1372.3" fill="#fff" stroke="#3a3a3a" stroke-width="0.9"/>
<path d="M2015.5 1374A74.5 74.5 0 0 0 1941 1299.5" fill="none" stroke="#3a3a3a" stroke-width="1"/>
<polygon points="1492.7,1556.5 1492.7,1481.5 1489.3,1481.5 1489.3,1556.5" fill="#fff" stroke="#3a3a3a" stroke-width="0.9"/>
<path d="M1491 1481.5A75 75 0 0 1 1566 1556.5" fill="none" stroke="#3a3a3a" stroke-width="1"/>
<polygon points="1639.7,1556.5 1639.7,1481.5 1636.3,1481.5 1636.3,1556.5" fill="#fff" stroke="#3a3a3a" stroke-width="0.9"/>
<path d="M1638 1481.5A75 75 0 0 0 1563 1556.5" fill="none" stroke="#3a3a3a" stroke-width="1"/>
<polyline points="1375,866 1394.5,846.5 1408.5,860.5" fill="none" stroke="#3a3a3a" stroke-width="3.2" stroke-linejoin="miter"/>
<polyline points="1375,866 1394.5,846.5 1408.5,860.5" fill="none" stroke="#fff" stroke-width="1.4" stroke-linejoin="miter"/>
<polyline points="1474,866 1456,846.5 1441,860.5" fill="none" stroke="#3a3a3a" stroke-width="3.2" stroke-linejoin="miter"/>
<polyline points="1474,866 1456,846.5 1441,860.5" fill="none" stroke="#fff" stroke-width="1.4" stroke-linejoin="miter"/>
<line x1="1365" y1="894" x2="1483.5" y2="894" stroke="#777" stroke-width="1"/>
<line x1="1445" y1="1060.3" x2="1522.5" y2="1060.3" stroke="#555" stroke-width="1" stroke-dasharray="14 6"/>
<line x1="1445" y1="1069.2" x2="1522.5" y2="1069.2" stroke="#555" stroke-width="1" stroke-dasharray="14 6"/>
<line x1="1847.5" y1="1069.2" x2="1924" y2="1069.2" stroke="#555" stroke-width="1" stroke-dasharray="14 6"/>
<rect x="1493.3" y="572.8" width="10.2" height="63.2" fill="#fff" stroke="#1e1e1e" stroke-width="1.8"/>
<line x1="1494.5" y1="574" x2="1502.5" y2="635" stroke="#444" stroke-width="0.8"/>
<line x1="1502.5" y1="574" x2="1494.5" y2="635" stroke="#444" stroke-width="0.8"/>
<rect x="1511.5" y="574" width="122.8" height="64.5" fill="#fff" stroke="#333" stroke-width="1.5"/>
<rect x="1514.5" y="576.6" width="117.5" height="60.4" fill="none" stroke="#444" stroke-width="1" rx="6"/>
<rect x="1539" y="577.3" width="68" height="2.7" fill="none" stroke="#555" stroke-width="0.8"/>
<rect x="1514.8" y="594" width="3.7" height="26" fill="none" stroke="#555" stroke-width="0.8" rx="1.5"/>
<rect x="1627.5" y="594" width="3.5" height="26" fill="none" stroke="#555" stroke-width="0.8" rx="1.5"/>
<line x1="1516" y1="606.2" x2="1528" y2="606.2" stroke="#444" stroke-width="2.2"/>
<circle cx="1530.8" cy="606.2" r="3" fill="#ddd" stroke="#333" stroke-width="1"/>
<line x1="1574" y1="639" x2="1574" y2="716" stroke="#bbb" stroke-width="1"/>
<ellipse cx="1592.4" cy="677.3" rx="19" ry="16" fill="#fff" stroke="#444" stroke-width="1"/>
<rect x="1611.3" y="657.2" width="20.7" height="40.8" fill="#fff" stroke="#444" stroke-width="1" rx="3"/>
<rect x="1581.6" y="716.2" width="53.2" height="52.3" fill="#e6e6e6" stroke="#b07878" stroke-width="1.3"/>
<line x1="1584" y1="718" x2="1584" y2="768" stroke="#999" stroke-width="0.8"/>
<ellipse cx="1606.4" cy="743.4" rx="17.3" ry="22" fill="#fff" stroke="#333" stroke-width="1"/>
<circle cx="1606.4" cy="743.2" r="2.4" fill="#fff" stroke="#333" stroke-width="1"/>
<rect x="1621" y="741.8" width="8" height="2.8" fill="#ddd" stroke="#444" stroke-width="0.8"/>
<circle cx="1626.7" cy="737.6" r="1.7" fill="none" stroke="#333" stroke-width="0.9"/>
<circle cx="1626.7" cy="748.8" r="1.7" fill="none" stroke="#333" stroke-width="0.9"/>
<rect x="1217" y="870.3" width="55.4" height="56.7" fill="#fff" stroke="#555" stroke-width="1"/>
<line x1="1217" y1="875.4" x2="1272.4" y2="875.4" stroke="#555" stroke-width="0.8"/>
<line x1="1217" y1="877.7" x2="1272.4" y2="877.7" stroke="#555" stroke-width="0.8"/>
<line x1="1217" y1="880" x2="1272.4" y2="880" stroke="#555" stroke-width="0.8"/>
<circle cx="1227" cy="877.6" r="2.4" fill="#555" stroke="none" stroke-width="0"/>
<circle cx="1263.2" cy="877.6" r="2.4" fill="#555" stroke="none" stroke-width="0"/>
<rect x="1278.6" y="874" width="57.8" height="53" fill="#fff" stroke="#555" stroke-width="1"/>
<line x1="1278.6" y1="878.6" x2="1336.4" y2="878.6" stroke="#666" stroke-width="1.6"/>
<line x1="1278.6" y1="881" x2="1336.4" y2="881" stroke="#555" stroke-width="0.8"/>
<rect x="1287" y="884.7" width="41" height="37.3" fill="none" stroke="#444" stroke-width="1.2" rx="7"/>
<rect x="1198" y="1023" width="153.8" height="11" fill="#e8e8e8"/>
<line x1="1198" y1="1022.9" x2="1351.8" y2="1022.9" stroke="#a04030" stroke-width="1"/>
<line x1="1198" y1="1034" x2="1351.8" y2="1034" stroke="#bbb" stroke-width="1"/>
<rect x="1351.8" y="1023" width="74.2" height="36.5" fill="#f3f3f3"/>
<line x1="1351.8" y1="1023" x2="1351.8" y2="1059.5" stroke="#aaa" stroke-width="1"/>
<line x1="1351.8" y1="1023" x2="1426" y2="1023" stroke="#ccc" stroke-width="0.8"/>
<line x1="1223" y1="1051" x2="1223" y2="1059.5" stroke="#444" stroke-width="2"/>
<line x1="1249.6" y1="1051" x2="1249.6" y2="1059.5" stroke="#444" stroke-width="2"/>
<line x1="1276.3" y1="1051" x2="1276.3" y2="1059.5" stroke="#444" stroke-width="2"/>
<line x1="1302.8" y1="1051" x2="1302.8" y2="1059.5" stroke="#444" stroke-width="2"/>
<line x1="1329" y1="1051" x2="1329" y2="1059.5" stroke="#444" stroke-width="2"/>
<line x1="1200" y1="1059" x2="1351.8" y2="1059" stroke="#222" stroke-width="1.6"/>
<line x1="1614.7" y1="869.5" x2="1614.7" y2="960" stroke="#666" stroke-width="0.9"/>
<line x1="1614.7" y1="969" x2="1614.7" y2="1053" stroke="#666" stroke-width="0.9"/>
<line x1="1635.5" y1="869.5" x2="1635.5" y2="960" stroke="#666" stroke-width="0.9"/>
<line x1="1635.5" y1="969" x2="1635.5" y2="1053" stroke="#666" stroke-width="0.9"/>
<line x1="1656.3" y1="869.5" x2="1656.3" y2="960" stroke="#666" stroke-width="0.9"/>
<line x1="1656.3" y1="969" x2="1656.3" y2="1053" stroke="#666" stroke-width="0.9"/>
<line x1="1677.9" y1="869.5" x2="1677.9" y2="960" stroke="#666" stroke-width="0.9"/>
<line x1="1677.9" y1="969" x2="1677.9" y2="1053" stroke="#666" stroke-width="0.9"/>
<line x1="1698.7" y1="869.5" x2="1698.7" y2="1060" stroke="#222" stroke-width="1.4" stroke-dasharray="17 6"/>
<line x1="1718.7" y1="869.5" x2="1718.7" y2="1060" stroke="#222" stroke-width="1.4" stroke-dasharray="17 6"/>
<line x1="1594" y1="869.8" x2="1801" y2="869.8" stroke="#222" stroke-width="1.2" stroke-dasharray="9 3"/>
<line x1="1800.3" y1="870" x2="1800.3" y2="1060" stroke="#222" stroke-width="1.2" stroke-dasharray="9 3"/>
<line x1="1594" y1="960.3" x2="1718" y2="960.3" stroke="#222" stroke-width="1.2" stroke-dasharray="9 3"/>
<line x1="1584.8" y1="969" x2="1584.8" y2="1060" stroke="#666" stroke-width="0.9"/>
<line x1="1593.2" y1="969" x2="1593.2" y2="1060" stroke="#666" stroke-width="0.9"/>
<line x1="1593.2" y1="1053.4" x2="1697" y2="1053.4" stroke="#666" stroke-width="0.9"/>
<line x1="1593.2" y1="1056.6" x2="1697" y2="1056.6" stroke="#666" stroke-width="0.9"/>
<polyline points="1673,969 1683,1005 1692.5,1008.4 1677,1020 1688.6,1024 1698,1059.5" fill="none" stroke="#444" stroke-width="1"/>
<line x1="1640" y1="1014.9" x2="1659" y2="1014.9" stroke="#3a4fa0" stroke-width="1"/>
<polygon points="1659,1010.8 1673.5,1014.9 1659,1019" fill="#fff" stroke="#3a4fa0" stroke-width="1"/>
<line x1="1145" y1="966" x2="1172" y2="966" stroke="#3a4fa0" stroke-width="1"/>
<polygon points="1172,962 1186.5,966 1172,970" fill="#fff" stroke="#3a4fa0" stroke-width="1"/>
<polyline points="1077.5,1015 1106,1015 1188,994.5" fill="none" stroke="#1f3a7a" stroke-width="1"/>
<polygon points="1190,994 1177.5,993.2 1179.5,1000.8" fill="#1f3a7a" stroke="#1f3a7a" stroke-width="0.6"/>
<rect x="1496.5" y="981" width="26" height="26" fill="#444"/>
<polyline points="1473,1025 1473,1009 1494,996" fill="none" stroke="#1f3a7a" stroke-width="1"/>
<polygon points="1496,995 1485.5,996.5 1489.8,1003.5" fill="#1f3a7a" stroke="#1f3a7a" stroke-width="0.6"/>
<polyline points="1340,1084 1366,1084 1387,1062.5" fill="none" stroke="#1f3a7a" stroke-width="1"/>
<polygon points="1388.5,1061 1378.5,1065 1384.3,1070.7" fill="#1f3a7a" stroke="#1f3a7a" stroke-width="0.6"/>
<rect x="1835" y="894.5" width="95.5" height="26.5" fill="#e8e8e8"/>
<line x1="1835" y1="921" x2="1930.5" y2="921" stroke="#b07878" stroke-width="1"/>
<line x1="1835" y1="894.5" x2="1930.5" y2="894.5" stroke="#bbb" stroke-width="0.8"/>
<line x1="1835" y1="894.5" x2="1835" y2="1000" stroke="#aaa" stroke-width="1"/>
<line x1="1963.5" y1="773.5" x2="1963.5" y2="912.5" stroke="#999" stroke-width="1"/>
<line x1="1971" y1="773.5" x2="1971" y2="912.5" stroke="#ccc" stroke-width="1"/>
<line x1="2017.5" y1="773.5" x2="2017.5" y2="912.5" stroke="#ccc" stroke-width="1"/>
<line x1="2024" y1="773.5" x2="2024" y2="912.5" stroke="#999" stroke-width="1"/>
<line x1="2255.5" y1="773.5" x2="2255.5" y2="912.5" stroke="#999" stroke-width="1"/>
<line x1="2262.5" y1="773.5" x2="2262.5" y2="912.5" stroke="#ccc" stroke-width="1"/>
<rect x="1941" y="920" width="60" height="76" fill="none" stroke="#bbb" stroke-width="1" stroke-dasharray="12 5"/>
<ellipse cx="1978" cy="958" rx="23" ry="15.8" fill="#fff" stroke="#444" stroke-width="1"/>
<rect x="1943" y="938" width="20" height="40" fill="#fff" stroke="#444" stroke-width="1" rx="3"/>
<rect x="1941" y="1011.5" width="76.5" height="143.3" fill="#fff" stroke="#555" stroke-width="1"/>
<line x1="2014.2" y1="1011.5" x2="2014.2" y2="1154.8" stroke="#555" stroke-width="1"/>
<rect x="1946" y="1013.5" width="64" height="136.5" fill="none" stroke="#666" stroke-width="1"/>
<rect x="1955" y="1020" width="46" height="7" fill="#fff" stroke="#444" stroke-width="1"/>
<circle cx="1979" cy="1029.5" r="4.3" fill="#fff" stroke="#333" stroke-width="1.1"/>
<line x1="1979" y1="1013" x2="1979" y2="1025" stroke="#444" stroke-width="1.2"/>
<circle cx="1979" cy="1136" r="4.6" fill="#fff" stroke="#333" stroke-width="1.1"/>
<line x1="1979" y1="1140" x2="1979" y2="1150" stroke="#444" stroke-width="1.6"/>
<circle cx="1979" cy="1136" r="1.6" fill="#444" stroke="none" stroke-width="0"/>
<g transform="rotate(31.5 2216 979.4)">
<rect x="2150.5" y="946.2" width="131" height="66.4" rx="46" ry="33.2" fill="#fff" stroke="#333" stroke-width="1"/>
<rect x="2153" y="948.7" width="126" height="61.4" rx="44" ry="30.7" fill="none" stroke="#333" stroke-width="1"/>
<rect x="2173" y="963" width="86" height="32.8" rx="26" ry="16.4" fill="none" stroke="#333" stroke-width="1"/>
<line x1="2236" y1="947.6" x2="2246" y2="947.6" stroke="#333" stroke-width="2.4"/>
</g>
<circle cx="2215.5" cy="979.2" r="3.8" fill="#fff" stroke="#333" stroke-width="1"/>
<rect x="2129" y="1102" width="151.5" height="52.8" fill="#e9e9e9" stroke="#b07878" stroke-width="1.3"/>
<polyline points="2131.5,1154 2131.5,1104.5 2280,1104.5" fill="none" stroke="#999" stroke-width="0.8"/>
<ellipse cx="2168" cy="1126" rx="22" ry="18.5" fill="#fff" stroke="#333" stroke-width="1"/>
<circle cx="2168" cy="1125.5" r="2.6" fill="#fff" stroke="#333" stroke-width="1.2"/>
<rect x="2166.6" y="1138" width="2.8" height="10" fill="#ddd" stroke="#444" stroke-width="0.8"/>
<circle cx="2162" cy="1145" r="1.7" fill="none" stroke="#333" stroke-width="0.9"/>
<circle cx="2174" cy="1145" r="1.7" fill="none" stroke="#333" stroke-width="0.9"/>
<ellipse cx="2243" cy="1126" rx="22" ry="18.5" fill="#fff" stroke="#333" stroke-width="1"/>
<circle cx="2243" cy="1125.5" r="2.6" fill="#fff" stroke="#333" stroke-width="1.2"/>
<rect x="2241.6" y="1138" width="2.8" height="10" fill="#ddd" stroke="#444" stroke-width="0.8"/>
<circle cx="2237" cy="1145" r="1.7" fill="none" stroke="#333" stroke-width="0.9"/>
<circle cx="2249" cy="1145" r="1.7" fill="none" stroke="#333" stroke-width="0.9"/>
<rect x="1248" y="1260.8" width="21" height="112.7" fill="none" stroke="#333" stroke-width="1.2"/>
<polyline points="1249,1284 1217.5,1292.5 1217.5,1340 1249,1350" fill="none" stroke="#444" stroke-width="1"/>
<rect x="1248.6" y="1277" width="3" height="79" fill="#fff" stroke="#444" stroke-width="0.9"/>
<line x1="1199" y1="1430" x2="1322" y2="1430" stroke="#222" stroke-width="1.1"/>
<line x1="1444" y1="1430" x2="1563" y2="1430" stroke="#222" stroke-width="1.1"/>
<polygon points="1198,1430 1211,1426.6 1208,1430 1211,1433.4" fill="#111" stroke="#111" stroke-width="0.5"/>
<polygon points="1564,1430 1551,1426.6 1554,1430 1551,1433.4" fill="#111" stroke="#111" stroke-width="0.5"/>
<line x1="1564" y1="1070" x2="1564" y2="1556" stroke="#222" stroke-width="1.5" stroke-dasharray="47 9 23 9"/>
<line x1="1529" y1="1127" x2="1529" y2="1332" stroke="#666" stroke-width="1" stroke-dasharray="47 9 23 9"/>
<line x1="1529" y1="1332" x2="1564" y2="1332" stroke="#666" stroke-width="1"/>
<line x1="1575" y1="1332" x2="1931" y2="1332" stroke="#666" stroke-width="1" stroke-dasharray="47 11 24 11"/>
<line x1="1575" y1="1332" x2="1575" y2="1556" stroke="#666" stroke-width="1" stroke-dasharray="47 11 24 11"/>
<rect x="1529" y="1070" width="75" height="49.5" fill="#f6f6f6"/>
<line x1="1529" y1="1119.5" x2="1604" y2="1119.5" stroke="#bbb" stroke-width="1"/>
<line x1="1529" y1="1070" x2="1529" y2="1119.5" stroke="#ccc" stroke-width="1"/>
<line x1="1529" y1="1126.5" x2="1604" y2="1126.5" stroke="#ddd" stroke-width="1"/>
<rect x="1604" y="1070" width="238.5" height="24" fill="#f7f7f7"/>
<rect x="1604" y="1094" width="50" height="27" fill="#e6e6e6"/>
<rect x="1717" y="1094" width="49" height="27" fill="#e6e6e6"/>
<line x1="1604" y1="1070" x2="1604" y2="1121" stroke="#ccc" stroke-width="1"/>
<line x1="1604" y1="1121" x2="1654" y2="1121" stroke="#b07878" stroke-width="1"/>
<line x1="1717" y1="1121" x2="1766" y2="1121" stroke="#b07878" stroke-width="1"/>
<line x1="1654" y1="1070" x2="1654" y2="1100" stroke="#ddd" stroke-width="1"/>
<line x1="1717" y1="1070" x2="1717" y2="1100" stroke="#ddd" stroke-width="1"/>
<line x1="1766" y1="1070" x2="1766" y2="1121" stroke="#ccc" stroke-width="1"/>
<line x1="1663" y1="1097" x2="1716" y2="1072" stroke="#ddd" stroke-width="1"/>
<rect x="1654" y="1100" width="63" height="27.3" fill="#f4f4f4" stroke="#666" stroke-width="1"/>
<line x1="1657" y1="1129" x2="1714" y2="1129" stroke="#444" stroke-width="1.6"/>
<line x1="1656" y1="1106" x2="1666" y2="1122" stroke="#333" stroke-width="1.6"/>
<line x1="1666" y1="1106" x2="1656" y2="1122" stroke="#333" stroke-width="1.6"/>
<line x1="1666" y1="1106" x2="1676" y2="1122" stroke="#333" stroke-width="1.6"/>
<line x1="1676" y1="1106" x2="1666" y2="1122" stroke="#333" stroke-width="1.6"/>
<line x1="1676" y1="1106" x2="1686" y2="1122" stroke="#333" stroke-width="1.6"/>
<line x1="1686" y1="1106" x2="1676" y2="1122" stroke="#333" stroke-width="1.6"/>
<line x1="1657" y1="1114" x2="1685" y2="1114" stroke="#333" stroke-width="1.4"/>
<line x1="1685" y1="1106" x2="1695" y2="1122" stroke="#333" stroke-width="1.6"/>
<line x1="1695" y1="1106" x2="1685" y2="1122" stroke="#333" stroke-width="1.6"/>
<line x1="1695" y1="1106" x2="1705" y2="1122" stroke="#333" stroke-width="1.6"/>
<line x1="1705" y1="1106" x2="1695" y2="1122" stroke="#333" stroke-width="1.6"/>
<line x1="1705" y1="1106" x2="1715" y2="1122" stroke="#333" stroke-width="1.6"/>
<line x1="1715" y1="1106" x2="1705" y2="1122" stroke="#333" stroke-width="1.6"/>
<line x1="1686" y1="1114" x2="1714" y2="1114" stroke="#333" stroke-width="1.4"/>
<line x1="1682.5" y1="1105" x2="1682.5" y2="1122" stroke="#333" stroke-width="1"/>
<line x1="1685.5" y1="1105" x2="1685.5" y2="1122" stroke="#333" stroke-width="1"/>
<line x1="1688.5" y1="1105" x2="1688.5" y2="1122" stroke="#333" stroke-width="1"/>
<rect x="1766" y="1070" width="76.5" height="51" fill="#fafafa"/>
<path d="M1766 1070V1122Q1766 1127.5 1772 1127.5H1836Q1842.5 1127.5 1842.5 1121V1070" fill="none" stroke="#bbb" stroke-width="1"/>
<line x1="1772" y1="1124.5" x2="1838" y2="1124.5" stroke="#999" stroke-width="1.4"/>
<rect x="1572.5" y="1217.5" width="225" height="75" fill="#e4e4e4" stroke="#b06a6a" stroke-width="1.2"/>
<rect x="1575" y="1220" width="220" height="49.5" fill="none" stroke="#777" stroke-width="0.9"/>
<rect x="1599" y="1220" width="48.5" height="47.5" fill="none" stroke="#555" stroke-width="1" stroke-dasharray="3.5 2"/>
<path d="M1604 1217.3Q1622 1203 1640 1217.3" fill="none" stroke="#444" stroke-width="1.2"/>
<path d="M1607 1217.3Q1622 1207.5 1637 1217.3" fill="none" stroke="#444" stroke-width="0.9"/>
<rect x="1649.5" y="1220" width="71" height="49.5" fill="#eee" stroke="#666" stroke-width="1"/>
<rect x="1652.5" y="1224" width="65" height="38" fill="#fff" stroke="#555" stroke-width="1" rx="5"/>
<circle cx="1695.5" cy="1244" r="3.8" fill="#ddd" stroke="#444" stroke-width="1.2"/>
<circle cx="1684" cy="1256.5" r="2.4" fill="#666" stroke="#333" stroke-width="0.8"/>
<line x1="1684" y1="1258" x2="1684" y2="1267" stroke="#555" stroke-width="1.6"/>
<line x1="1677" y1="1267.5" x2="1693" y2="1267.5" stroke="#444" stroke-width="2"/>
<line x1="1669.5" y1="1263" x2="1669.5" y2="1268" stroke="#555" stroke-width="1.6"/>
<line x1="1264" y1="1567" x2="1264" y2="1704" stroke="#333" stroke-width="1"/>
<line x1="1268.5" y1="1567" x2="1268.5" y2="1704" stroke="#333" stroke-width="1"/>
<line x1="1273" y1="1567" x2="1273" y2="1704" stroke="#666" stroke-width="1" stroke-dasharray="30 8"/>
<line x1="1859.5" y1="1567" x2="1859.5" y2="1704" stroke="#333" stroke-width="1"/>
<line x1="1864.5" y1="1567" x2="1864.5" y2="1704" stroke="#333" stroke-width="1"/>
<line x1="1855" y1="1567" x2="1855" y2="1704" stroke="#666" stroke-width="1" stroke-dasharray="30 8"/>
<line x1="1263" y1="1709.3" x2="1865" y2="1709.3" stroke="#333" stroke-width="1"/>
<line x1="1263" y1="1715" x2="1865" y2="1715" stroke="#333" stroke-width="1.2"/>
<line x1="1275" y1="1705.3" x2="1853" y2="1705.3" stroke="#666" stroke-width="1" stroke-dasharray="30 8"/>
<rect x="1263" y="1704" width="12" height="11.3" fill="#6a6a6a" stroke="#222" stroke-width="1"/>
<line x1="1263" y1="1704" x2="1275" y2="1715.3" stroke="#111" stroke-width="0.9"/>
<line x1="1275" y1="1704" x2="1263" y2="1715.3" stroke="#111" stroke-width="0.9"/>
<rect x="1458" y="1704" width="12" height="11.3" fill="#6a6a6a" stroke="#222" stroke-width="1"/>
<line x1="1458" y1="1704" x2="1470" y2="1715.3" stroke="#111" stroke-width="0.9"/>
<line x1="1470" y1="1704" x2="1458" y2="1715.3" stroke="#111" stroke-width="0.9"/>
<rect x="1658" y="1704" width="12" height="11.3" fill="#6a6a6a" stroke="#222" stroke-width="1"/>
<line x1="1658" y1="1704" x2="1670" y2="1715.3" stroke="#111" stroke-width="0.9"/>
<line x1="1670" y1="1704" x2="1658" y2="1715.3" stroke="#111" stroke-width="0.9"/>
<rect x="1853" y="1704" width="12.5" height="11.3" fill="#6a6a6a" stroke="#222" stroke-width="1"/>
<line x1="1853" y1="1704" x2="1865.5" y2="1715.3" stroke="#111" stroke-width="0.9"/>
<line x1="1865.5" y1="1704" x2="1853" y2="1715.3" stroke="#111" stroke-width="0.9"/>
<rect x="996.68" y="763.5" width="36.64" height="11.6" fill="#fff"/>
<text x="1015" y="773.48" font-size="11.6" text-anchor="middle" class="wl">10080</text>
<rect x="1215.92" y="555.92" width="47.15" height="25.76" fill="#fff"/>
<text x="1239.5" y="566.48" font-size="11.6" text-anchor="middle" class="wl">2852DH</text>
<text x="1239.5" y="579.48" font-size="11.6" text-anchor="middle" class="wl">80 1/2"</text>
<rect x="1420.42" y="555.92" width="47.15" height="25.76" fill="#fff"/>
<text x="1444" y="566.48" font-size="11.6" text-anchor="middle" class="wl">2852DH</text>
<text x="1444" y="579.48" font-size="11.6" text-anchor="middle" class="wl">80 1/2"</text>
<rect x="1662.92" y="555.92" width="47.15" height="25.76" fill="#fff"/>
<text x="1686.5" y="566.48" font-size="11.6" text-anchor="middle" class="wl">2852DH</text>
<text x="1686.5" y="579.48" font-size="11.6" text-anchor="middle" class="wl">80 1/2"</text>
<rect x="1866.42" y="555.92" width="47.15" height="25.76" fill="#fff"/>
<text x="1890" y="566.48" font-size="11.6" text-anchor="middle" class="wl">2852DH</text>
<text x="1890" y="579.48" font-size="11.6" text-anchor="middle" class="wl">80 1/2"</text>
<rect x="2058.42" y="755.92" width="47.15" height="25.76" fill="#fff"/>
<text x="2082" y="766.48" font-size="11.6" text-anchor="middle" class="wl">2852DH</text>
<text x="2082" y="779.48" font-size="11.6" text-anchor="middle" class="wl">80 1/2"</text>
<rect x="2124.42" y="755.92" width="47.15" height="25.76" fill="#fff"/>
<text x="2148" y="766.48" font-size="11.6" text-anchor="middle" class="wl">2852DH</text>
<text x="2148" y="779.48" font-size="11.6" text-anchor="middle" class="wl">80 1/2"</text>
<rect x="958.42" y="1499.12" width="47.15" height="25.76" fill="#fff"/>
<text x="982" y="1509.68" font-size="11.6" text-anchor="middle" class="wl">2848DH</text>
<text x="982" y="1522.68" font-size="11.6" text-anchor="middle" class="wl">96"</text>
<rect x="1024.42" y="1499.12" width="47.15" height="25.76" fill="#fff"/>
<text x="1048" y="1509.68" font-size="11.6" text-anchor="middle" class="wl">2848DH</text>
<text x="1048" y="1522.68" font-size="11.6" text-anchor="middle" class="wl">96"</text>
<rect x="2058.42" y="1499.42" width="47.15" height="25.76" fill="#fff"/>
<text x="2082" y="1509.98" font-size="11.6" text-anchor="middle" class="wl">2848DH</text>
<text x="2082" y="1522.98" font-size="11.6" text-anchor="middle" class="wl">80 1/2"</text>
<rect x="2124.42" y="1499.42" width="47.15" height="25.76" fill="#fff"/>
<text x="2148" y="1509.98" font-size="11.6" text-anchor="middle" class="wl">2848DH</text>
<text x="2148" y="1522.98" font-size="11.6" text-anchor="middle" class="wl">80 1/2"</text>
<rect x="1308.42" y="1549.12" width="47.15" height="25.76" fill="#fff"/>
<text x="1332" y="1559.68" font-size="11.6" text-anchor="middle" class="wl">2860DH</text>
<text x="1332" y="1572.68" font-size="11.6" text-anchor="middle" class="wl">96 1/2"</text>
<rect x="1374.42" y="1549.12" width="47.15" height="25.76" fill="#fff"/>
<text x="1398" y="1559.68" font-size="11.6" text-anchor="middle" class="wl">2860DH</text>
<text x="1398" y="1572.68" font-size="11.6" text-anchor="middle" class="wl">96 1/2"</text>
<rect x="1708.42" y="1549.12" width="47.15" height="25.76" fill="#fff"/>
<text x="1732" y="1559.68" font-size="11.6" text-anchor="middle" class="wl">2860DH</text>
<text x="1732" y="1572.68" font-size="11.6" text-anchor="middle" class="wl">96 1/2"</text>
<rect x="1774.42" y="1549.12" width="47.15" height="25.76" fill="#fff"/>
<text x="1798" y="1559.68" font-size="11.6" text-anchor="middle" class="wl">2860DH</text>
<text x="1798" y="1572.68" font-size="11.6" text-anchor="middle" class="wl">96 1/2"</text>
<rect x="2273.12" y="1020.92" width="27.26" height="47.15" fill="#fff"/>
<text x="2283.68" y="1044.5" font-size="11.6" text-anchor="middle" transform="rotate(-90 2283.68 1044.5)" class="wl">4040FX</text>
<text x="2298.18" y="1044.5" font-size="11.6" text-anchor="middle" transform="rotate(-90 2298.18 1044.5)" class="wl">80 1/2"</text>
<rect x="2273.12" y="1190.42" width="27.26" height="47.15" fill="#fff"/>
<text x="2283.68" y="1214" font-size="11.6" text-anchor="middle" transform="rotate(-90 2283.68 1214)" class="wl">2852DH</text>
<text x="2298.18" y="1214" font-size="11.6" text-anchor="middle" transform="rotate(-90 2298.18 1214)" class="wl">80 1/2"</text>
<rect x="2273.12" y="1436.42" width="27.26" height="47.15" fill="#fff"/>
<text x="2283.68" y="1460" font-size="11.6" text-anchor="middle" transform="rotate(-90 2283.68 1460)" class="wl">2852DH</text>
<text x="2298.18" y="1460" font-size="11.6" text-anchor="middle" transform="rotate(-90 2298.18 1460)" class="wl">80 1/2"</text>
<rect x="837.75" y="949.66" width="11.5" height="29.68" fill="#fff"/>
<text x="847.64" y="964.5" font-size="11.5" text-anchor="middle" transform="rotate(-90 847.64 964.5)" class="wl">3068</text>
<rect x="1188.25" y="958.46" width="11.5" height="29.68" fill="#fff"/>
<text x="1198.14" y="973.3" font-size="11.5" text-anchor="middle" transform="rotate(-90 1198.14 973.3)" class="wl">3068</text>
<rect x="1425.55" y="958.16" width="11.5" height="29.68" fill="#fff"/>
<text x="1435.44" y="973" font-size="11.5" text-anchor="middle" transform="rotate(-90 1435.44 973)" class="wl">3068</text>
<rect x="1484.25" y="804.66" width="11.5" height="29.68" fill="#fff"/>
<text x="1494.14" y="819.5" font-size="11.5" text-anchor="middle" transform="rotate(-90 1494.14 819.5)" class="wl">2868</text>
<rect x="1634.25" y="804.66" width="11.5" height="29.68" fill="#fff"/>
<text x="1644.14" y="819.5" font-size="11.5" text-anchor="middle" transform="rotate(-90 1644.14 819.5)" class="wl">2868</text>
<rect x="1524.66" y="767.85" width="29.68" height="11.5" fill="#fff"/>
<text x="1539.5" y="777.74" font-size="11.5" text-anchor="middle" class="wl">2868</text>
<text x="1425" y="870.14" font-size="11.5" text-anchor="middle" class="wl">4068</text>
<rect x="1584.55" y="899.86" width="11.5" height="29.68" fill="#fff"/>
<text x="1594.44" y="914.7" font-size="11.5" text-anchor="middle" transform="rotate(-90 1594.44 914.7)" class="wl">2668</text>
<rect x="1930.75" y="804.66" width="11.5" height="29.68" fill="#fff"/>
<text x="1940.64" y="819.5" font-size="11.5" text-anchor="middle" transform="rotate(-90 1940.64 819.5)" class="wl">2668</text>
<rect x="2067.16" y="912.25" width="29.68" height="11.5" fill="#fff"/>
<text x="2082" y="922.14" font-size="11.5" text-anchor="middle" class="wl">3068</text>
<rect x="1469.66" y="1059.75" width="29.68" height="11.5" fill="#fff"/>
<text x="1484.5" y="1069.64" font-size="11.5" text-anchor="middle" class="wl">3068</text>
<rect x="1871.16" y="1059.75" width="29.68" height="11.5" fill="#fff"/>
<text x="1886" y="1069.64" font-size="11.5" text-anchor="middle" class="wl">3068</text>
<rect x="2011.75" y="1035.16" width="11.5" height="29.68" fill="#fff"/>
<text x="2021.64" y="1050" font-size="11.5" text-anchor="middle" transform="rotate(-90 2021.64 1050)" class="wl">2668</text>
<rect x="2056.16" y="1154.25" width="29.68" height="11.5" fill="#fff"/>
<text x="2071" y="1164.14" font-size="11.5" text-anchor="middle" class="wl">3068</text>
<rect x="1930.25" y="1323.16" width="11.5" height="29.68" fill="#fff"/>
<text x="1940.14" y="1338" font-size="11.5" text-anchor="middle" transform="rotate(-90 1940.14 1338)" class="wl">3068</text>
<rect x="1549.16" y="1557.25" width="29.68" height="11.5" fill="#fff"/>
<text x="1564" y="1567.14" font-size="11.5" text-anchor="middle" class="wl">6080</text>
<rect x="1469.66" y="1059.75" width="29.68" height="11.5" fill="#fff"/>
<text x="1484.5" y="1069.64" font-size="11.5" text-anchor="middle" class="wl">3068</text>
<rect x="1871.16" y="1059.75" width="29.68" height="11.5" fill="#fff"/>
<text x="1886" y="1069.64" font-size="11.5" text-anchor="middle" class="wl">3068</text>
<text x="1340.5" y="718" font-size="36.5" text-anchor="middle">BEDROOM 2</text>
<rect x="1230.98" y="719.9" width="219.04" height="2.55" fill="#000"/>
<text x="1340.5" y="752" font-size="29.3" text-anchor="middle">11'-6" X 11'-6"</text>
<rect x="1247.95" y="753.52" width="185.11" height="2.05" fill="#000"/>
<text x="1340.5" y="785.3" font-size="29.3" text-anchor="middle">144 SQ FT</text>
<rect x="1268.85" y="786.82" width="143.3" height="2.05" fill="#000"/>
<text x="1341" y="811" font-size="17.3" text-anchor="middle">8' Ceiling</text>
<text x="1787" y="718" font-size="36.5" text-anchor="middle">BEDROOM 3</text>
<rect x="1677.48" y="719.9" width="219.04" height="2.55" fill="#000"/>
<text x="1787" y="752" font-size="29.3" text-anchor="middle">11'-6" X 11'-6"</text>
<rect x="1694.45" y="753.52" width="185.11" height="2.05" fill="#000"/>
<text x="1787" y="785.3" font-size="29.3" text-anchor="middle">143 SQ FT</text>
<rect x="1715.35" y="786.82" width="143.3" height="2.05" fill="#000"/>
<text x="1787" y="807.5" font-size="17.3" text-anchor="middle">8' Ceiling</text>
<text x="2160.5" y="821" font-size="36.5" text-anchor="middle">CLOSET</text>
<rect x="2087.48" y="822.9" width="146.04" height="2.55" fill="#000"/>
<text x="2160.5" y="855" font-size="29.3" text-anchor="middle">11'-4" X 5'-7"</text>
<rect x="2076.09" y="856.52" width="168.81" height="2.05" fill="#000"/>
<text x="2160.5" y="888.3" font-size="29.3" text-anchor="middle">72 SQ FT</text>
<rect x="2097" y="889.82" width="127" height="2.05" fill="#000"/>
<text x="2114.5" y="970" font-size="36.5" text-anchor="middle">BATH</text>
<rect x="2065.83" y="971.9" width="97.35" height="2.55" fill="#000"/>
<text x="2114.5" y="1004" font-size="29.3" text-anchor="middle">10'-7" X 9'-4"</text>
<rect x="2030.09" y="1005.52" width="168.81" height="2.05" fill="#000"/>
<text x="2114.5" y="1037.3" font-size="29.3" text-anchor="middle">117 SQ FT</text>
<rect x="2042.85" y="1038.82" width="143.3" height="2.05" fill="#000"/>
<text x="2114" y="1072" font-size="17.3" text-anchor="middle">8' Ceiling</text>
<text x="1018" y="1092.3" font-size="36.5" text-anchor="middle">GARAGE</text>
<rect x="939.91" y="1094.2" width="156.18" height="2.56" fill="#000"/>
<text x="1018" y="1126.3" font-size="29.3" text-anchor="middle">13'-8" X 21'-8"</text>
<rect x="925.45" y="1127.82" width="185.11" height="2.05" fill="#000"/>
<text x="1018" y="1159.6" font-size="29.3" text-anchor="middle">308 SQ FT</text>
<rect x="946.35" y="1161.12" width="143.3" height="2.05" fill="#000"/>
<text x="1018" y="1182.6" font-size="17.3" text-anchor="middle">9'4" Ceiling</text>
<text x="1018" y="1360" font-size="36.5" text-anchor="middle">GARAGE</text>
<rect x="939.91" y="1361.9" width="156.18" height="2.56" fill="#000"/>
<text x="1018" y="1398.5" font-size="36.5" text-anchor="middle">STORAGE</text>
<rect x="928.76" y="1400.4" width="178.48" height="2.56" fill="#000"/>
<text x="1017.5" y="1432" font-size="29.3" text-anchor="middle">13'-8" X 7'-8"</text>
<rect x="933.09" y="1433.52" width="168.81" height="2.05" fill="#000"/>
<text x="1017.5" y="1466" font-size="29.3" text-anchor="middle">112 SQ FT</text>
<rect x="945.85" y="1467.52" width="143.3" height="2.05" fill="#000"/>
<text x="1018" y="1486.5" font-size="17.3" text-anchor="middle">9'4" Ceiling</text>
<text x="1385" y="1336.5" font-size="36.5" text-anchor="middle">LIVING</text>
<rect x="1325.16" y="1338.4" width="119.68" height="2.56" fill="#000"/>
<text x="1385" y="1370.5" font-size="29.3" text-anchor="middle">11'-3" X 19'-6"</text>
<rect x="1292.45" y="1372.02" width="185.11" height="2.05" fill="#000"/>
<text x="1385" y="1403.8" font-size="29.3" text-anchor="middle">278 SQ FT</text>
<rect x="1313.35" y="1405.32" width="143.3" height="2.05" fill="#000"/>
<text x="1383.5" y="1426" font-size="17.3" text-anchor="middle">Vaulted Ceiling</text>
<text x="1383.5" y="1446" font-size="17.3" text-anchor="middle">15' 9" to 20' 9"</text>
<text x="1833" y="1177.5" font-size="36.5" text-anchor="middle">KITCHEN</text>
<rect x="1752.9" y="1179.4" width="160.21" height="2.56" fill="#000"/>
<text x="1833" y="1211.5" font-size="29.3" text-anchor="middle">16'-1" X 10'-6"</text>
<rect x="1740.45" y="1213.02" width="185.11" height="2.05" fill="#000"/>
<text x="1833" y="1244.8" font-size="29.3" text-anchor="middle">174 SQ FT</text>
<rect x="1761.35" y="1246.32" width="143.3" height="2.05" fill="#000"/>
<text x="1833" y="1287.5" font-size="17.3" text-anchor="middle">Vaulted Ceiling</text>
<text x="1762" y="1400.3" font-size="36.5" text-anchor="middle">DINING</text>
<rect x="1698.12" y="1402.2" width="127.75" height="2.56" fill="#000"/>
<text x="1762" y="1434.3" font-size="29.3" text-anchor="middle">14'-3" X 9'-0"</text>
<rect x="1677.59" y="1435.82" width="168.81" height="2.05" fill="#000"/>
<text x="1762" y="1467.6" font-size="29.3" text-anchor="middle">135 SQ FT</text>
<rect x="1690.35" y="1469.12" width="143.3" height="2.05" fill="#000"/>
<text x="1762" y="1490.6" font-size="17.3" text-anchor="middle">Vaulted Ceiling</text>
<text x="2110" y="1271.3" font-size="36.5" text-anchor="middle">PRIMARY</text>
<rect x="2026.85" y="1273.2" width="166.31" height="2.56" fill="#000"/>
<text x="2110" y="1312.3" font-size="36.5" text-anchor="middle">BEDROOM</text>
<rect x="2015.7" y="1314.2" width="188.6" height="2.56" fill="#000"/>
<text x="2110" y="1346.3" font-size="29.3" text-anchor="middle">13'-8" X 13'-9"</text>
<rect x="2017.45" y="1347.82" width="185.11" height="2.05" fill="#000"/>
<text x="2110" y="1379.6" font-size="29.3" text-anchor="middle">202 SQ FT</text>
<rect x="2038.35" y="1381.12" width="143.3" height="2.05" fill="#000"/>
<text x="2110" y="1402.6" font-size="17.3" text-anchor="middle">8' Ceiling</text>
<text x="1564.3" y="1605" font-size="36.5" text-anchor="middle">PORCH</text>
<rect x="1498.39" y="1606.9" width="131.82" height="2.56" fill="#000"/>
<text x="1564.3" y="1639" font-size="29.3" text-anchor="middle">24'-0" X 5'-11"</text>
<rect x="1471.75" y="1640.52" width="185.11" height="2.05" fill="#000"/>
<text x="1564.3" y="1672.3" font-size="29.3" text-anchor="middle">144 SQ FT</text>
<rect x="1492.65" y="1673.82" width="143.3" height="2.05" fill="#000"/>
<text x="1564" y="1691" font-size="17.3" text-anchor="middle">9' Ceiling</text>
<text x="1565" y="661.4" font-size="18.1" text-anchor="middle">BATH</text>
<rect x="1540.86" y="662.34" width="48.27" height="1.27" fill="#000"/>
<text x="1565" y="679.4" font-size="15.2" text-anchor="middle">5'-8" X 7'-10"</text>
<rect x="1521.21" y="680.19" width="87.57" height="1.06" fill="#000"/>
<text x="1565" y="696.3" font-size="15.1" text-anchor="middle">48 SQ FT</text>
<rect x="1532.27" y="697.09" width="65.45" height="1.06" fill="#000"/>
<text x="1565" y="715.4" font-size="10.8" text-anchor="middle" class="wl">8' Ceiling</text>
<text x="1564" y="800.4" font-size="13.7" text-anchor="middle">HALL</text>
<rect x="1546.86" y="801.11" width="34.27" height="0.96" fill="#000"/>
<text x="1564" y="814.5" font-size="11.4" text-anchor="middle" class="wl">6'-2" X 11'-4"</text>
<rect x="1531.16" y="815.09" width="65.68" height="0.95" fill="#000"/>
<text x="1564" y="827.1" font-size="11.4" text-anchor="middle" class="wl">67 SQ FT</text>
<rect x="1539.29" y="827.69" width="49.41" height="0.95" fill="#000"/>
<text x="1564" y="840.2" font-size="12.7" text-anchor="middle">8' Ceiling</text>
<text x="1312" y="963.3" font-size="25.9" text-anchor="middle">MUDROOM</text>
<rect x="1242.22" y="964.65" width="139.56" height="1.81" fill="#000"/>
<text x="1312" y="987.9" font-size="20.8" text-anchor="middle">9'-2" X 7'-8"</text>
<rect x="1257.86" y="988.98" width="108.27" height="1.46" fill="#000"/>
<text x="1312" y="1011" font-size="20.8" text-anchor="middle">71 SQ FT</text>
<rect x="1266.92" y="1012.08" width="90.16" height="1.46" fill="#000"/>
<text x="1310" y="1028.7" font-size="17.3" text-anchor="middle">8' Ceiling</text>
<text x="1661" y="900.8" font-size="25.7" text-anchor="middle">STORAGE</text>
<rect x="1598.17" y="902.14" width="125.67" height="1.8" fill="#000"/>
<text x="1661" y="925.5" font-size="20.7" text-anchor="middle">8'-6" X 3'-8"</text>
<rect x="1607.13" y="926.58" width="107.75" height="1.45" fill="#000"/>
<text x="1661" y="948.6" font-size="20.8" text-anchor="middle">69 SQ FT</text>
<rect x="1615.92" y="949.68" width="90.16" height="1.46" fill="#000"/>
<text x="1883.5" y="955" font-size="16.1" text-anchor="middle">PANTRY</text>
<rect x="1850.85" y="955.84" width="65.31" height="1.13" fill="#000"/>
<text x="1884" y="970" font-size="13" text-anchor="middle" class="wl">4'-10" X 7'-8"</text>
<rect x="1846.55" y="970.68" width="74.9" height="0.95" fill="#000"/>
<text x="1884.7" y="985" font-size="13" text-anchor="middle">42 SQ FT</text>
<rect x="1856.53" y="985.68" width="56.35" height="0.95" fill="#000"/>
<text x="1884.7" y="1007.5" font-size="17.3" text-anchor="middle">8' Ceiling</text>
<text x="909" y="1012.5" font-size="17.4">Garage Floor 15.5"</text>
<text x="909" y="1031.3" font-size="17.4">below main subfloor</text>
<text x="1222" y="1090" font-size="17.5">Broom Cabinet</text>
<text x="1438.5" y="1038" font-size="17.3">air return</text>
<text x="1142.5" y="996" font-size="31.3">UP</text>
<text x="1594.5" y="1025.7" font-size="31.3">UP</text>
<rect x="1393" y="1959" width="342" height="50" fill="#f5f5f5"/>
<line x1="1393" y1="2009" x2="1735" y2="2009" stroke="#aaa" stroke-width="1"/>
<line x1="1495.5" y1="1959" x2="1495.5" y2="2009" stroke="#aaa" stroke-width="1"/>
<line x1="1634" y1="1959" x2="1634" y2="2009" stroke="#aaa" stroke-width="1"/>
<rect x="1186.5" y="1948.5" width="328.5" height="11.5" fill="#0c0c0c"/>
<rect x="1614" y="1948.5" width="327.5" height="11.5" fill="#0c0c0c"/>
<rect x="1186.5" y="1948.5" width="11.5" height="1004.5" fill="#0c0c0c"/>
<rect x="1930" y="1948.5" width="11.5" height="1004.5" fill="#0c0c0c"/>
<rect x="1186.5" y="2941.5" width="278.5" height="11.5" fill="#0c0c0c"/>
<rect x="1664" y="2941.5" width="277.5" height="11.5" fill="#0c0c0c"/>
<rect x="1384" y="1954.5" width="10" height="308" fill="#0c0c0c"/>
<rect x="1384" y="2339" width="10" height="111.5" fill="#0c0c0c"/>
<rect x="1734.5" y="1954.5" width="10" height="209.5" fill="#0c0c0c"/>
<rect x="1734.5" y="2239" width="10" height="11.5" fill="#0c0c0c"/>
<rect x="1191.5" y="2444.5" width="745" height="12" fill="#0c0c0c"/>
<rect x="1384" y="2345.5" width="55" height="10.5" fill="#0c0c0c"/>
<rect x="1540" y="2345.5" width="179.5" height="10.5" fill="#0c0c0c"/>
<rect x="1583.5" y="2245.5" width="11" height="17" fill="#0c0c0c"/>
<rect x="1583.5" y="2337.5" width="11" height="113" fill="#0c0c0c"/>
<rect x="1583.5" y="2245.5" width="227" height="10.5" fill="#0c0c0c"/>
<rect x="1800.5" y="2245.5" width="10" height="205" fill="#0c0c0c"/>
<rect x="1194.7" y="2635" width="53.3" height="10.5" fill="#0c0c0c"/>
<rect x="1238" y="2635" width="10" height="135" fill="#0c0c0c"/>
<rect x="1194.7" y="2759.5" width="53.3" height="10.5" fill="#0c0c0c"/>
<rect x="1190.1" y="1952.1" width="324.9" height="5.1" fill="#bababa"/>
<rect x="1614" y="1952.1" width="323.9" height="5.1" fill="#bababa"/>
<rect x="1190.1" y="1952.1" width="5.1" height="997.3" fill="#bababa"/>
<rect x="1932.8" y="1952.1" width="5.1" height="997.3" fill="#bababa"/>
<rect x="1190.1" y="2944.3" width="274.9" height="5.1" fill="#bababa"/>
<rect x="1664" y="2944.3" width="273.9" height="5.1" fill="#bababa"/>
<rect x="1386.8" y="1957.3" width="4.4" height="305.2" fill="#bababa"/>
<rect x="1386.8" y="2339" width="4.4" height="108.7" fill="#bababa"/>
<rect x="1737.3" y="1957.3" width="4.4" height="206.7" fill="#bababa"/>
<rect x="1737.3" y="2239" width="4.4" height="8.7" fill="#bababa"/>
<rect x="1194.3" y="2447.3" width="739.4" height="5.6" fill="#bababa"/>
<rect x="1386.8" y="2348.3" width="52.2" height="4.9" fill="#bababa"/>
<rect x="1540" y="2348.3" width="176.7" height="4.9" fill="#bababa"/>
<rect x="1586.3" y="2248.3" width="5.4" height="14.2" fill="#bababa"/>
<rect x="1586.3" y="2337.5" width="5.4" height="110.2" fill="#bababa"/>
<rect x="1586.3" y="2248.3" width="221.4" height="4.9" fill="#bababa"/>
<rect x="1803.3" y="2248.3" width="4.4" height="199.4" fill="#bababa"/>
<rect x="1197.5" y="2637.8" width="47.7" height="4.9" fill="#bababa"/>
<rect x="1240.8" y="2637.8" width="4.4" height="129.4" fill="#bababa"/>
<rect x="1197.5" y="2762.3" width="47.7" height="4.9" fill="#bababa"/>
<line x1="1189.5" y1="1903" x2="1547.5" y2="1903" stroke="#403b7c" stroke-width="1.1"/>
<line x1="1580" y1="1903" x2="1939" y2="1903" stroke="#403b7c" stroke-width="1.1"/>
<line x1="1189.5" y1="1903" x2="1189.5" y2="1948" stroke="#403b7c" stroke-width="1.1"/>
<line x1="1939.5" y1="1903" x2="1939.5" y2="1949" stroke="#403b7c" stroke-width="1.1"/>
<circle cx="1189.5" cy="1903" r="4.4" fill="#d2d2ff" stroke="#2b285c" stroke-width="1.3"/>
<circle cx="1189.5" cy="1903" r="3" fill="#211d78" stroke="none" stroke-width="0"/>
<circle cx="1939" cy="1903" r="4.4" fill="#d2d2ff" stroke="#2b285c" stroke-width="1.3"/>
<circle cx="1939" cy="1903" r="3" fill="#211d78" stroke="none" stroke-width="0"/>
<text x="1564" y="1910.8" font-size="16.8" text-anchor="middle">30'</text>
<line x1="1951" y1="1950.5" x2="1981.6" y2="1950.5" stroke="#403b7c" stroke-width="1.1"/>
<line x1="1951" y1="2950" x2="1981.6" y2="2950" stroke="#403b7c" stroke-width="1.1"/>
<line x1="1981.6" y1="1950.5" x2="1981.6" y2="2433" stroke="#403b7c" stroke-width="1.1"/>
<line x1="1981.6" y1="2466.4" x2="1981.6" y2="2950" stroke="#403b7c" stroke-width="1.1"/>
<circle cx="1981.6" cy="1950.5" r="4.4" fill="#d2d2ff" stroke="#2b285c" stroke-width="1.3"/>
<circle cx="1981.6" cy="1950.5" r="3" fill="#211d78" stroke="none" stroke-width="0"/>
<circle cx="1981.6" cy="2950" r="4.4" fill="#d2d2ff" stroke="#2b285c" stroke-width="1.3"/>
<circle cx="1981.6" cy="2950" r="3" fill="#211d78" stroke="none" stroke-width="0"/>
<text x="1989.2" y="2450.4" font-size="16.8" text-anchor="middle" transform="rotate(-90 1989.2 2450.4)">40'</text>
<line x1="1515" y1="1949.8" x2="1614" y2="1949.8" stroke="#333" stroke-width="1.1"/>
<line x1="1515" y1="1955.6" x2="1614" y2="1955.6" stroke="#444" stroke-width="0.9"/>
<line x1="1515" y1="1957.3" x2="1614" y2="1957.3" stroke="#444" stroke-width="0.9"/>
<line x1="1515" y1="1959" x2="1614" y2="1959" stroke="#444" stroke-width="0.9"/>
<rect x="1514.5" y="1957.2" width="3.3" height="4" fill="#222"/>
<rect x="1611.2" y="1957.2" width="3.3" height="4" fill="#222"/>
<line x1="1465" y1="2951.7" x2="1664" y2="2951.7" stroke="#333" stroke-width="1.1"/>
<line x1="1465" y1="2942.5" x2="1664" y2="2942.5" stroke="#444" stroke-width="0.9"/>
<line x1="1465" y1="2944.2" x2="1664" y2="2944.2" stroke="#444" stroke-width="0.9"/>
<line x1="1465" y1="2945.9" x2="1664" y2="2945.9" stroke="#444" stroke-width="0.9"/>
<rect x="1464.5" y="2940.2" width="3.3" height="4" fill="#222"/>
<rect x="1661.2" y="2940.2" width="3.3" height="4" fill="#222"/>
<rect x="1513" y="2941.5" width="2.5" height="11.5" fill="#555"/>
<rect x="1613.5" y="2941.5" width="2.5" height="11.5" fill="#555"/>
<rect x="1463.5" y="2941.5" width="2" height="11.5" fill="#111"/>
<rect x="1663.5" y="2941.5" width="2" height="11.5" fill="#111"/>
<rect x="1435.7" y="2343.8" width="3.8" height="13.9" fill="#111"/>
<rect x="1539.5" y="2343.8" width="3.8" height="13.9" fill="#111"/>
<rect x="1382.3" y="2259.2" width="13.4" height="3.8" fill="#111"/>
<rect x="1382.3" y="2338.5" width="13.4" height="3.8" fill="#111"/>
<rect x="1732.8" y="2160.7" width="13.4" height="3.8" fill="#111"/>
<rect x="1732.8" y="2238.5" width="13.4" height="3.8" fill="#111"/>
<rect x="1581.8" y="2259.2" width="14.4" height="3.8" fill="#111"/>
<rect x="1581.8" y="2337" width="14.4" height="3.8" fill="#111"/>
<polygon points="1385,2335.3 1309.5,2335.3 1309.5,2338.7 1385,2338.7" fill="#fff" stroke="#3a3a3a" stroke-width="0.9"/>
<path d="M1309.5 2337A75.5 75.5 0 0 1 1385 2261.5" fill="none" stroke="#3a3a3a" stroke-width="1"/>
<polygon points="1744,2238.7 1819,2238.7 1819,2235.3 1744,2235.3" fill="#fff" stroke="#3a3a3a" stroke-width="0.9"/>
<path d="M1819 2237A75 75 0 0 0 1744 2162" fill="none" stroke="#3a3a3a" stroke-width="1"/>
<polygon points="1586.7,2336.8 1532.96,2283.06 1530.56,2285.46 1584.3,2339.2" fill="#fff" stroke="#3a3a3a" stroke-width="0.9"/>
<path d="M1531.76 2284.26A76 76 0 0 1 1585.5 2262" fill="none" stroke="#3a3a3a" stroke-width="1"/>
<path d="M1440 2345.5L1474.5 2311" fill="none" stroke="#3a3a3a" stroke-width="3.2"/>
<path d="M1440 2345.5L1474.5 2311" fill="none" stroke="#fff" stroke-width="1.4"/>
<path d="M1539.5 2345.5L1503 2311" fill="none" stroke="#3a3a3a" stroke-width="3.2"/>
<path d="M1539.5 2345.5L1503 2311" fill="none" stroke="#fff" stroke-width="1.4"/>
<path d="M1474.5 2311Q1487 2325 1489 2343" fill="none" stroke="#3a3a3a" stroke-width="1"/>
<path d="M1503 2311Q1491 2325 1489 2343" fill="none" stroke="#3a3a3a" stroke-width="1"/>
<rect x="1418" y="2355.5" width="141.5" height="64.5" fill="none" stroke="#999" stroke-width="1"/>
<rect x="1594" y="2256.8" width="126" height="3.7" fill="#fff" stroke="#777" stroke-width="0.9"/>
<line x1="1614" y1="2260.5" x2="1614" y2="2345" stroke="#666" stroke-width="0.9"/>
<line x1="1635" y1="2260.5" x2="1635" y2="2345" stroke="#666" stroke-width="0.9"/>
<line x1="1656" y1="2260.5" x2="1656" y2="2345" stroke="#666" stroke-width="0.9"/>
<line x1="1677" y1="2260.5" x2="1677" y2="2345" stroke="#666" stroke-width="0.9"/>
<line x1="1697.5" y1="2260.5" x2="1697.5" y2="2345" stroke="#666" stroke-width="0.9"/>
<line x1="1719" y1="2260.5" x2="1719" y2="2345" stroke="#666" stroke-width="0.9"/>
<line x1="1614" y1="2355.5" x2="1614" y2="2445" stroke="#222" stroke-width="1.3" stroke-dasharray="17 6"/>
<line x1="1635" y1="2355.5" x2="1635" y2="2445" stroke="#222" stroke-width="1.3" stroke-dasharray="17 6"/>
<line x1="1656" y1="2355.5" x2="1656" y2="2445" stroke="#222" stroke-width="1.3" stroke-dasharray="17 6"/>
<line x1="1677" y1="2355.5" x2="1677" y2="2445" stroke="#666" stroke-width="0.9"/>
<line x1="1697.5" y1="2355.5" x2="1697.5" y2="2445" stroke="#666" stroke-width="0.9"/>
<line x1="1719" y1="2355.5" x2="1719" y2="2445" stroke="#666" stroke-width="0.9"/>
<rect x="1672" y="2356" width="5" height="44" fill="#fff"/>
<polyline points="1672.5,2355.5 1684,2391 1692,2394.5 1680,2405 1686.5,2408 1697.5,2445" fill="none" stroke="#444" stroke-width="1"/>
<rect x="1697.5" y="2439" width="21.5" height="6" fill="#fff" stroke="#777" stroke-width="0.9"/>
<line x1="1641" y1="2299" x2="1685" y2="2299" stroke="#3a4fa0" stroke-width="1"/>
<polygon points="1685,2295 1700,2299 1685,2303" fill="#fff" stroke="#3a4fa0" stroke-width="1"/>
<text x="1596" y="2311" font-size="30.8">DN</text>
<rect x="1816" y="2305" width="38" height="47.5" fill="#fff" stroke="#888" stroke-width="1"/>
<rect x="1818" y="2307" width="34" height="43.5" fill="none" stroke="#aaa" stroke-width="0.8"/>
<rect x="1819.5" y="2332.5" width="31" height="16.5" fill="none" stroke="#888" stroke-width="1"/>
<line x1="1818" y1="2304.5" x2="1852" y2="2304.5" stroke="#555" stroke-width="1.4"/>
<polyline points="1877,2274.5 1865,2274.5 1842,2297.5" fill="none" stroke="#1f3a7a" stroke-width="1"/>
<polygon points="1840.5,2299 1851,2295.5 1845.3,2289.5" fill="#1f3a7a" stroke="#1f3a7a" stroke-width="0.6"/>
<text x="1879" y="2279.5" font-size="16.6">HVAC</text>
<text x="1292" y="2057.5" font-size="36.3" text-anchor="middle">ATTIC</text>
<rect x="1239.57" y="2059.39" width="104.86" height="2.54" fill="#000"/>
<text x="1292" y="2091" font-size="29.3" text-anchor="middle">7'-6" X 19'-6"</text>
<rect x="1207.59" y="2092.52" width="168.81" height="2.05" fill="#000"/>
<text x="1292" y="2125" font-size="29.3" text-anchor="middle">157 SQ FT</text>
<rect x="1220.35" y="2126.52" width="143.3" height="2.05" fill="#000"/>
<text x="1837.5" y="2057.5" font-size="36.3" text-anchor="middle">ATTIC</text>
<rect x="1785.07" y="2059.39" width="104.86" height="2.54" fill="#000"/>
<text x="1837.5" y="2091" font-size="29.3" text-anchor="middle">7'-6" X 19'-6"</text>
<rect x="1753.09" y="2092.52" width="168.81" height="2.05" fill="#000"/>
<text x="1837.5" y="2125" font-size="29.3" text-anchor="middle">137 SQ FT</text>
<rect x="1765.85" y="2126.52" width="143.3" height="2.05" fill="#000"/>
<text x="1564" y="2057.5" font-size="36.3" text-anchor="middle">BONUS</text>
<rect x="1499.45" y="2059.39" width="129.09" height="2.54" fill="#000"/>
<text x="1564" y="2091" font-size="29.3" text-anchor="middle">13'-8" X 15'-6"</text>
<rect x="1471.45" y="2092.52" width="185.11" height="2.05" fill="#000"/>
<text x="1564" y="2125" font-size="29.3" text-anchor="middle">206 SQ FT</text>
<rect x="1492.35" y="2126.52" width="143.3" height="2.05" fill="#000"/>
<text x="1564" y="2150" font-size="17.3" text-anchor="middle">8' Ceiling</text>
<text x="1489" y="2384" font-size="26" text-anchor="middle">CLOSET</text>
<rect x="1436.99" y="2385.35" width="104.03" height="1.82" fill="#000"/>
<text x="1489" y="2409" font-size="20.8" text-anchor="middle">7'-8" X 3'-8"</text>
<rect x="1434.86" y="2410.08" width="108.27" height="1.46" fill="#000"/>
<text x="1489" y="2432.5" font-size="20.8" text-anchor="middle">34 SQ FT</text>
<rect x="1443.92" y="2433.58" width="90.16" height="1.46" fill="#000"/>
<text x="1588.3" y="2722.5" font-size="26.1" text-anchor="middle">OPEN BELOW</text>
<rect x="1500.56" y="2723.86" width="175.49" height="1.83" fill="#000"/>
<text x="1589" y="2748" font-size="20.9" text-anchor="middle">27'-4" X 19'-6"</text>
<rect x="1522.98" y="2749.09" width="132.04" height="1.46" fill="#000"/>
<text x="1589.8" y="2770.5" font-size="20.8" text-anchor="middle">588 SQ FT</text>
<rect x="1538.94" y="2771.58" width="101.73" height="1.46" fill="#000"/>
<rect x="1540.92" y="1941.62" width="47.15" height="25.76" fill="#fff"/>
<text x="1564.5" y="1952.18" font-size="11.6" text-anchor="middle" class="wl">4040DH</text>
<text x="1564.5" y="1965.18" font-size="11.6" text-anchor="middle" class="wl">80 1/2"</text>
<rect x="1464" y="2934.62" width="50" height="25.76" fill="#fff"/>
<text x="1489" y="2945.18" font-size="11.6" text-anchor="middle" class="wl">2040FX</text>
<text x="1489" y="2958.18" font-size="11.6" text-anchor="middle" class="wl">114 1/2"</text>
<rect x="1539.5" y="2934.62" width="50" height="25.76" fill="#fff"/>
<text x="1564.5" y="2945.18" font-size="11.6" text-anchor="middle" class="wl">4040FX</text>
<text x="1564.5" y="2958.18" font-size="11.6" text-anchor="middle" class="wl">114 1/2"</text>
<rect x="1614" y="2934.62" width="50" height="25.76" fill="#fff"/>
<text x="1639" y="2945.18" font-size="11.6" text-anchor="middle" class="wl">2040FX</text>
<text x="1639" y="2958.18" font-size="11.6" text-anchor="middle" class="wl">114 1/2"</text>
<rect x="1384.25" y="2284.66" width="11.5" height="29.68" fill="#fff"/>
<text x="1394.14" y="2299.5" font-size="11.5" text-anchor="middle" transform="rotate(-90 1394.14 2299.5)" class="wl">3068</text>
<rect x="1733.75" y="2186.16" width="11.5" height="29.68" fill="#fff"/>
<text x="1743.64" y="2201" font-size="11.5" text-anchor="middle" transform="rotate(-90 1743.64 2201)" class="wl">3068</text>
<rect x="1583.75" y="2284.66" width="11.5" height="29.68" fill="#fff"/>
<text x="1593.64" y="2299.5" font-size="11.5" text-anchor="middle" transform="rotate(-90 1593.64 2299.5)" class="wl">3068</text>
<text x="1490" y="2355.14" font-size="11.5" text-anchor="middle" class="wl">4068</text>
<clipPath id="cL"><rect x="1057.2" y="60" width="122.5" height="260"/></clipPath>
<g fill="#05443f" class="sf">
<g clip-path="url(#cL)"><text id="lgL" transform="translate(1026.6 296) scale(0.98 1.012)" font-size="313">L</text></g>
<clipPath id="cW"><polygon points="1080,60 1139,60 1139,100 1205,100 1205,60 1420,60 1420,320 1080,320"/></clipPath>
<clipPath id="cD"><rect x="1333.5" y="60" width="200" height="260"/></clipPath>
<g clip-path="url(#cW)"><text id="lgW" transform="translate(1093.6 296) scale(0.975 1.012)" font-size="313">W</text></g>
<g clip-path="url(#cD)"><text id="lgD" transform="translate(1301.5 296) scale(0.929 1.012)" font-size="313">D</text></g>
</g>
<text id="lgT" x="1047.5" y="356" font-size="42.5" fill="#05443f" textLength="441" lengthAdjust="spacing">LEE WATERS DESIGN</text>
<text x="433" y="712.2" font-size="58.2">1st Floor</text>
<text x="732.5" y="1956.4" font-size="58.2">2nd Floor</text>
<text transform="translate(43.8 2638.2) scale(1.042 1)" font-size="36" class="tb" font-weight="bold">Bedrooms</text>
<text transform="translate(666.8 2638.2) scale(1.042 1)" font-size="36" class="tb" text-anchor="end" font-weight="bold">3</text>
<text transform="translate(43.8 2681.51) scale(1.042 1)" font-size="36" class="tb" font-weight="bold">Bathrooms</text>
<text transform="translate(666.8 2681.51) scale(1.042 1)" font-size="36" class="tb" text-anchor="end" font-weight="bold">2</text>
<text transform="translate(43.8 2724.82) scale(1.042 1)" font-size="36" class="tb" font-weight="bold">Heated Living Space</text>
<text transform="translate(666.8 2724.82) scale(1.042 1)" font-size="36" class="tb" text-anchor="end" font-weight="bold">1620 SQ.FT.</text>
<circle cx="60.2" cy="2755.13" r="7.2" fill="#000" stroke="none" stroke-width="0"/>
<text transform="translate(76.6 2768.13) scale(1.05 1)" font-size="36" class="tb">1st Floor</text>
<text transform="translate(666.8 2768.13) scale(1.031 1)" font-size="36" class="tb" text-anchor="end">1620 SQ.FT.</text>
<text transform="translate(43.8 2811.44) scale(1.042 1)" font-size="36" class="tb" font-weight="bold">Unheated Living Space</text>
<text transform="translate(666.8 2811.44) scale(1.042 1)" font-size="36" class="tb" text-anchor="end" font-weight="bold">660 SQ.FT.</text>
<circle cx="60.2" cy="2841.75" r="7.2" fill="#000" stroke="none" stroke-width="0"/>
<text transform="translate(76.6 2854.75) scale(1.05 1)" font-size="36" class="tb">Garage</text>
<text transform="translate(666.8 2854.75) scale(1.031 1)" font-size="36" class="tb" text-anchor="end">420 SQ.FT.</text>
<circle cx="60.2" cy="2885.06" r="7.2" fill="#000" stroke="none" stroke-width="0"/>
<text transform="translate(76.6 2898.06) scale(1.05 1)" font-size="36" class="tb">Bonus</text>
<text transform="translate(666.8 2898.06) scale(1.031 1)" font-size="36" class="tb" text-anchor="end">240 SQ.FT.</text>
<text transform="translate(43.8 2941.37) scale(1.042 1)" font-size="36" class="tb" font-weight="bold">Porch &amp; Deck Space</text>
<text transform="translate(666.8 2941.37) scale(1.042 1)" font-size="36" class="tb" text-anchor="end" font-weight="bold">144 SQ.FT.</text>
<circle cx="60.2" cy="2971.68" r="7.2" fill="#000" stroke="none" stroke-width="0"/>
<text transform="translate(76.6 2984.68) scale(1.05 1)" font-size="36" class="tb">Front Porch</text>
<text transform="translate(666.8 2984.68) scale(1.031 1)" font-size="36" class="tb" text-anchor="end">144 SQ.FT.</text>
<text x="139.2" y="3162" font-size="84" fill="#05443f" class="sf" textLength="117" lengthAdjust="spacingAndGlyphs">LEE</text>
<text x="275.5" y="3162" font-size="84" fill="#05443f" class="sf" textLength="284.5" lengthAdjust="spacingAndGlyphs">WATERS</text>
<text x="586.5" y="3162" font-size="84" fill="#05443f" class="sf" textLength="249" lengthAdjust="spacingAndGlyphs">DESIGN</text>
<text x="1112.7" y="3184.6" font-size="152">Riverstone Ranch</text>
</svg></body></html>
